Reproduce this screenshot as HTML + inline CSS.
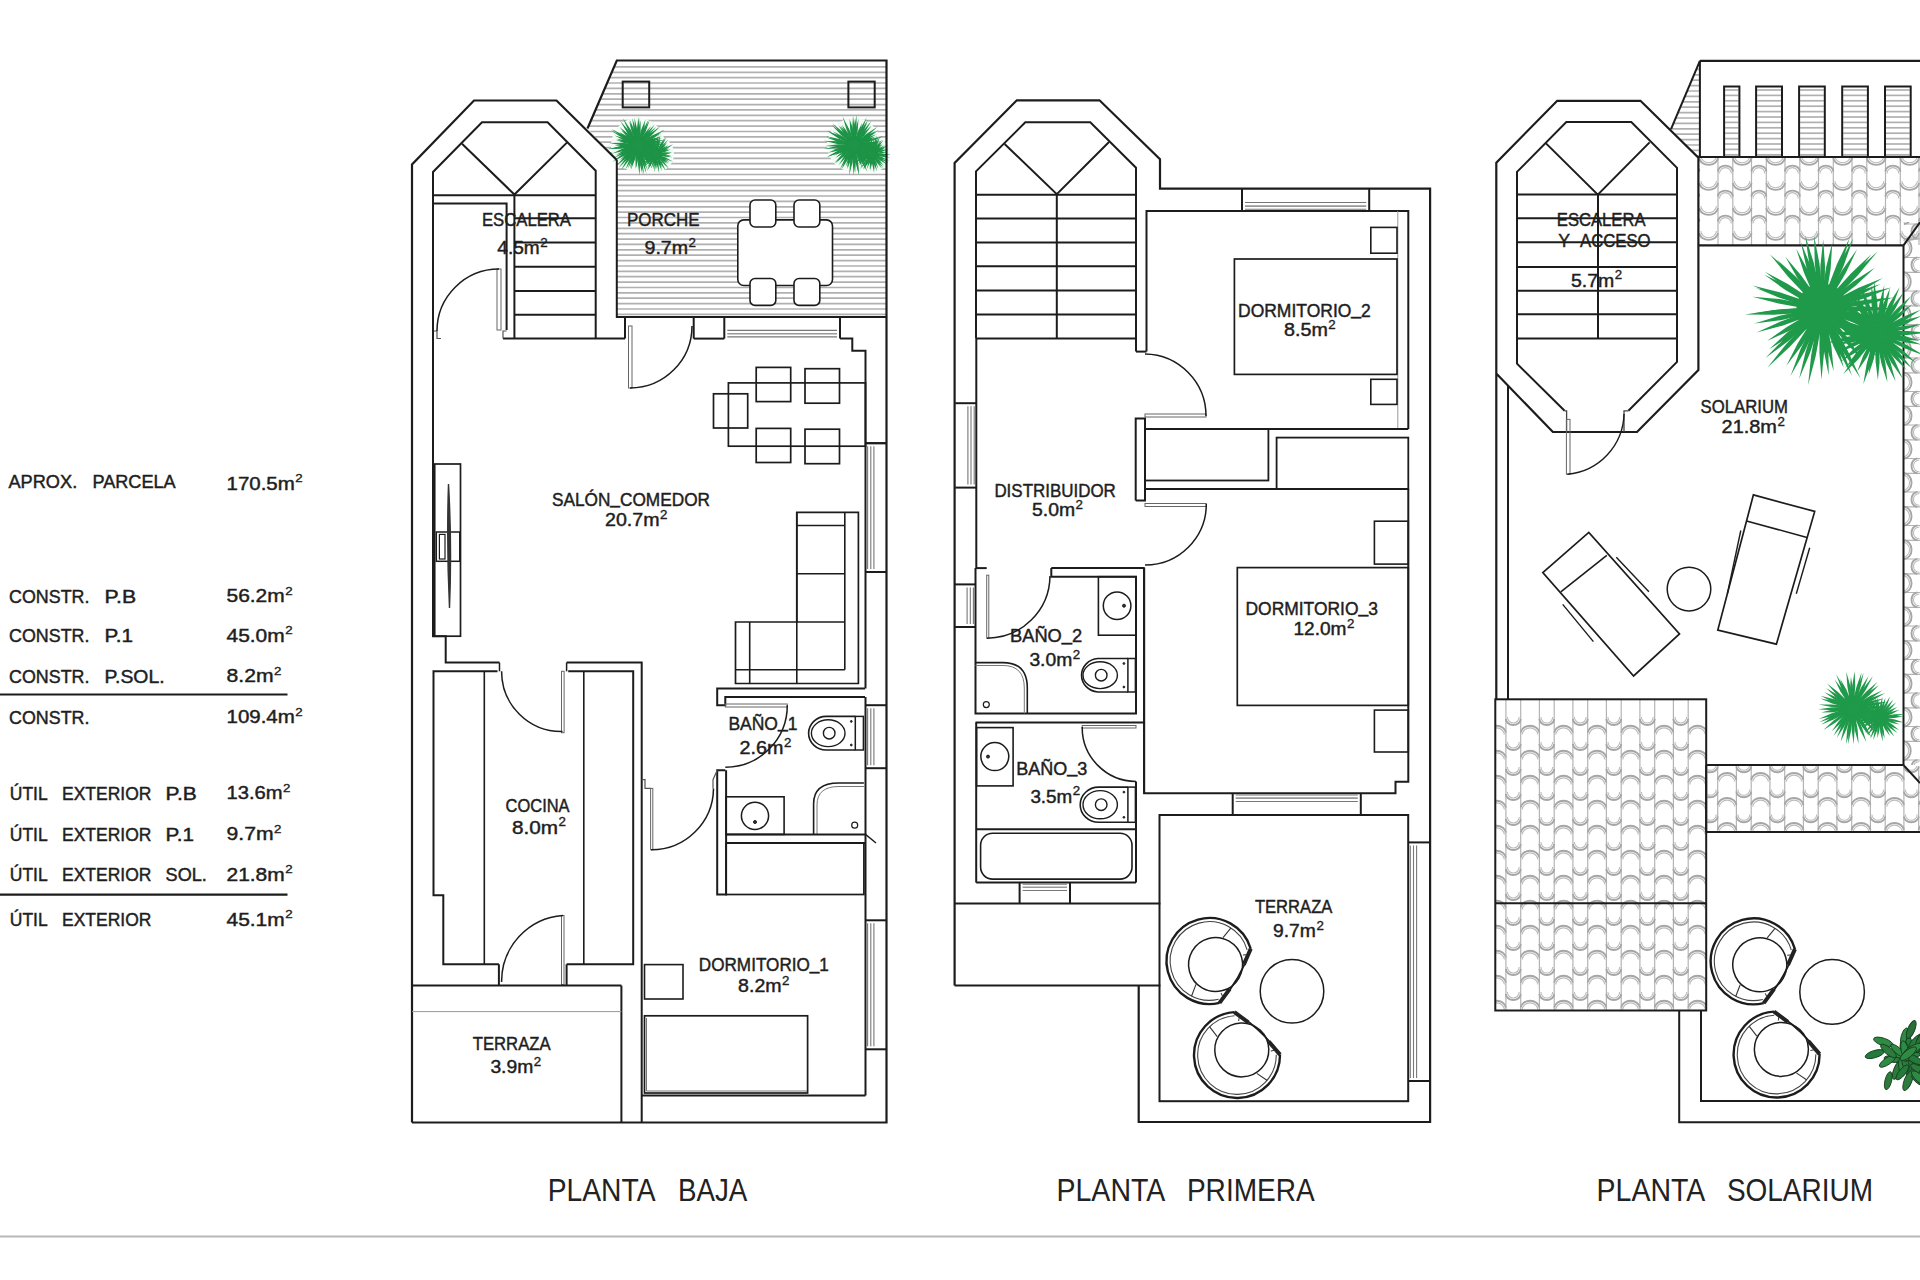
<!DOCTYPE html>
<html><head><meta charset="utf-8"><title>Plano</title>
<style>html,body{margin:0;padding:0;background:#fff;width:1920px;height:1280px;overflow:hidden}
svg{display:block} text{font-family:"Liberation Sans",sans-serif}</style></head>
<body><svg width="1920" height="1280" viewBox="0 0 1920 1280">
<rect width="1920" height="1280" fill="#fff"/>
<text x="8.5" y="488" font-size="18.5" textLength="68.7" lengthAdjust="spacingAndGlyphs" fill="#1e1e1e" stroke="#1e1e1e" stroke-width="0.45">APROX.</text>
<text x="92.4" y="488" font-size="18.5" textLength="83.3" lengthAdjust="spacingAndGlyphs" fill="#1e1e1e" stroke="#1e1e1e" stroke-width="0.45">PARCELA</text>
<text x="226.5" y="489.5" font-size="18.5" textLength="68.3" lengthAdjust="spacingAndGlyphs" fill="#1e1e1e" stroke="#1e1e1e" stroke-width="0.45">170.5m</text>
<text x="295.3" y="482.1" font-size="11.8" textLength="7.4" lengthAdjust="spacingAndGlyphs" fill="#1e1e1e" stroke="#1e1e1e" stroke-width="0.35">2</text>
<text x="9.1" y="603.2" font-size="18.5" textLength="80.3" lengthAdjust="spacingAndGlyphs" fill="#1e1e1e" stroke="#1e1e1e" stroke-width="0.45">CONSTR.</text>
<text x="104.6" y="603.2" font-size="18.5" textLength="31.5" lengthAdjust="spacingAndGlyphs" fill="#1e1e1e" stroke="#1e1e1e" stroke-width="0.45">P.B</text>
<text x="226.5" y="602.4" font-size="18.5" textLength="58.2" lengthAdjust="spacingAndGlyphs" fill="#1e1e1e" stroke="#1e1e1e" stroke-width="0.45">56.2m</text>
<text x="285.2" y="595" font-size="11.8" textLength="7.4" lengthAdjust="spacingAndGlyphs" fill="#1e1e1e" stroke="#1e1e1e" stroke-width="0.35">2</text>
<text x="9.1" y="642.4" font-size="18.5" textLength="80.3" lengthAdjust="spacingAndGlyphs" fill="#1e1e1e" stroke="#1e1e1e" stroke-width="0.45">CONSTR.</text>
<text x="104.6" y="642.4" font-size="18.5" textLength="28.4" lengthAdjust="spacingAndGlyphs" fill="#1e1e1e" stroke="#1e1e1e" stroke-width="0.45">P.1</text>
<text x="226.5" y="641.6" font-size="18.5" textLength="58.2" lengthAdjust="spacingAndGlyphs" fill="#1e1e1e" stroke="#1e1e1e" stroke-width="0.45">45.0m</text>
<text x="285.2" y="634.2" font-size="11.8" textLength="7.4" lengthAdjust="spacingAndGlyphs" fill="#1e1e1e" stroke="#1e1e1e" stroke-width="0.35">2</text>
<text x="9.1" y="682.9" font-size="18.5" textLength="80.3" lengthAdjust="spacingAndGlyphs" fill="#1e1e1e" stroke="#1e1e1e" stroke-width="0.45">CONSTR.</text>
<text x="104.6" y="682.9" font-size="18.5" textLength="60" lengthAdjust="spacingAndGlyphs" fill="#1e1e1e" stroke="#1e1e1e" stroke-width="0.45">P.SOL.</text>
<text x="226.5" y="682.1" font-size="18.5" textLength="47" lengthAdjust="spacingAndGlyphs" fill="#1e1e1e" stroke="#1e1e1e" stroke-width="0.45">8.2m</text>
<text x="274" y="674.7" font-size="11.8" textLength="7.4" lengthAdjust="spacingAndGlyphs" fill="#1e1e1e" stroke="#1e1e1e" stroke-width="0.35">2</text>
<text x="9.1" y="724.1" font-size="18.5" textLength="80.3" lengthAdjust="spacingAndGlyphs" fill="#1e1e1e" stroke="#1e1e1e" stroke-width="0.45">CONSTR.</text>
<text x="226.5" y="723.3" font-size="18.5" textLength="68.3" lengthAdjust="spacingAndGlyphs" fill="#1e1e1e" stroke="#1e1e1e" stroke-width="0.45">109.4m</text>
<text x="295.3" y="715.9" font-size="11.8" textLength="7.4" lengthAdjust="spacingAndGlyphs" fill="#1e1e1e" stroke="#1e1e1e" stroke-width="0.35">2</text>
<text x="9.8" y="799.7" font-size="18.5" textLength="37.9" lengthAdjust="spacingAndGlyphs" fill="#1e1e1e" stroke="#1e1e1e" stroke-width="0.45">ÚTIL</text>
<text x="62" y="799.7" font-size="18.5" textLength="89.4" lengthAdjust="spacingAndGlyphs" fill="#1e1e1e" stroke="#1e1e1e" stroke-width="0.45">EXTERIOR</text>
<text x="165.6" y="799.7" font-size="18.5" textLength="31.1" lengthAdjust="spacingAndGlyphs" fill="#1e1e1e" stroke="#1e1e1e" stroke-width="0.45">P.B</text>
<text x="226.5" y="798.9" font-size="18.5" textLength="56.1" lengthAdjust="spacingAndGlyphs" fill="#1e1e1e" stroke="#1e1e1e" stroke-width="0.45">13.6m</text>
<text x="283.1" y="791.5" font-size="11.8" textLength="7.4" lengthAdjust="spacingAndGlyphs" fill="#1e1e1e" stroke="#1e1e1e" stroke-width="0.35">2</text>
<text x="9.8" y="840.8" font-size="18.5" textLength="37.9" lengthAdjust="spacingAndGlyphs" fill="#1e1e1e" stroke="#1e1e1e" stroke-width="0.45">ÚTIL</text>
<text x="62" y="840.8" font-size="18.5" textLength="89.4" lengthAdjust="spacingAndGlyphs" fill="#1e1e1e" stroke="#1e1e1e" stroke-width="0.45">EXTERIOR</text>
<text x="165.6" y="840.8" font-size="18.5" textLength="28.4" lengthAdjust="spacingAndGlyphs" fill="#1e1e1e" stroke="#1e1e1e" stroke-width="0.45">P.1</text>
<text x="226.5" y="840" font-size="18.5" textLength="47" lengthAdjust="spacingAndGlyphs" fill="#1e1e1e" stroke="#1e1e1e" stroke-width="0.45">9.7m</text>
<text x="274" y="832.6" font-size="11.8" textLength="7.4" lengthAdjust="spacingAndGlyphs" fill="#1e1e1e" stroke="#1e1e1e" stroke-width="0.35">2</text>
<text x="9.8" y="881.4" font-size="18.5" textLength="37.9" lengthAdjust="spacingAndGlyphs" fill="#1e1e1e" stroke="#1e1e1e" stroke-width="0.45">ÚTIL</text>
<text x="62" y="881.4" font-size="18.5" textLength="89.4" lengthAdjust="spacingAndGlyphs" fill="#1e1e1e" stroke="#1e1e1e" stroke-width="0.45">EXTERIOR</text>
<text x="165.6" y="881.4" font-size="18.5" textLength="41.2" lengthAdjust="spacingAndGlyphs" fill="#1e1e1e" stroke="#1e1e1e" stroke-width="0.45">SOL.</text>
<text x="226.5" y="880.6" font-size="18.5" textLength="58.2" lengthAdjust="spacingAndGlyphs" fill="#1e1e1e" stroke="#1e1e1e" stroke-width="0.45">21.8m</text>
<text x="285.2" y="873.2" font-size="11.8" textLength="7.4" lengthAdjust="spacingAndGlyphs" fill="#1e1e1e" stroke="#1e1e1e" stroke-width="0.35">2</text>
<text x="9.8" y="926.3" font-size="18.5" textLength="37.9" lengthAdjust="spacingAndGlyphs" fill="#1e1e1e" stroke="#1e1e1e" stroke-width="0.45">ÚTIL</text>
<text x="62" y="926.3" font-size="18.5" textLength="89.4" lengthAdjust="spacingAndGlyphs" fill="#1e1e1e" stroke="#1e1e1e" stroke-width="0.45">EXTERIOR</text>
<text x="226.5" y="925.5" font-size="18.5" textLength="58.2" lengthAdjust="spacingAndGlyphs" fill="#1e1e1e" stroke="#1e1e1e" stroke-width="0.45">45.1m</text>
<text x="285.2" y="918.1" font-size="11.8" textLength="7.4" lengthAdjust="spacingAndGlyphs" fill="#1e1e1e" stroke="#1e1e1e" stroke-width="0.35">2</text>
<line x1="0" y1="694.5" x2="287.5" y2="694.5" stroke="#1c1c1c" stroke-width="2.2"/>
<line x1="0" y1="894.6" x2="287.5" y2="894.6" stroke="#1c1c1c" stroke-width="2.2"/>
<clipPath id="porchclip"><polygon points="587.5,128.5 616.8,60.5 886.5,60.5 886.5,317 616.8,317 616.8,160"/></clipPath>
<g clip-path="url(#porchclip)">
<line x1="580" y1="66.9" x2="890" y2="66.9" stroke="#b0b0b0" stroke-width="1.7"/>
<line x1="580" y1="72.3" x2="890" y2="72.3" stroke="#b0b0b0" stroke-width="1.7"/>
<line x1="580" y1="77.7" x2="890" y2="77.7" stroke="#b0b0b0" stroke-width="1.7"/>
<line x1="580" y1="83" x2="890" y2="83" stroke="#b0b0b0" stroke-width="1.7"/>
<line x1="580" y1="88.4" x2="890" y2="88.4" stroke="#b0b0b0" stroke-width="1.7"/>
<line x1="580" y1="93.8" x2="890" y2="93.8" stroke="#b0b0b0" stroke-width="1.7"/>
<line x1="580" y1="99.2" x2="890" y2="99.2" stroke="#b0b0b0" stroke-width="1.7"/>
<line x1="580" y1="104.6" x2="890" y2="104.6" stroke="#b0b0b0" stroke-width="1.7"/>
<line x1="580" y1="109.9" x2="890" y2="109.9" stroke="#b0b0b0" stroke-width="1.7"/>
<line x1="580" y1="115.3" x2="890" y2="115.3" stroke="#b0b0b0" stroke-width="1.7"/>
<line x1="580" y1="120.7" x2="890" y2="120.7" stroke="#b0b0b0" stroke-width="1.7"/>
<line x1="580" y1="126.1" x2="890" y2="126.1" stroke="#b0b0b0" stroke-width="1.7"/>
<line x1="580" y1="131.5" x2="890" y2="131.5" stroke="#b0b0b0" stroke-width="1.7"/>
<line x1="580" y1="136.8" x2="890" y2="136.8" stroke="#b0b0b0" stroke-width="1.7"/>
<line x1="580" y1="142.2" x2="890" y2="142.2" stroke="#b0b0b0" stroke-width="1.7"/>
<line x1="580" y1="147.6" x2="890" y2="147.6" stroke="#b0b0b0" stroke-width="1.7"/>
<line x1="580" y1="153" x2="890" y2="153" stroke="#b0b0b0" stroke-width="1.7"/>
<line x1="580" y1="158.4" x2="890" y2="158.4" stroke="#b0b0b0" stroke-width="1.7"/>
<line x1="580" y1="163.7" x2="890" y2="163.7" stroke="#b0b0b0" stroke-width="1.7"/>
<line x1="580" y1="169.1" x2="890" y2="169.1" stroke="#b0b0b0" stroke-width="1.7"/>
<line x1="580" y1="174.5" x2="890" y2="174.5" stroke="#b0b0b0" stroke-width="1.7"/>
<line x1="580" y1="179.9" x2="890" y2="179.9" stroke="#b0b0b0" stroke-width="1.7"/>
<line x1="580" y1="185.3" x2="890" y2="185.3" stroke="#b0b0b0" stroke-width="1.7"/>
<line x1="580" y1="190.6" x2="890" y2="190.6" stroke="#b0b0b0" stroke-width="1.7"/>
<line x1="580" y1="196" x2="890" y2="196" stroke="#b0b0b0" stroke-width="1.7"/>
<line x1="580" y1="201.4" x2="890" y2="201.4" stroke="#b0b0b0" stroke-width="1.7"/>
<line x1="580" y1="206.8" x2="890" y2="206.8" stroke="#b0b0b0" stroke-width="1.7"/>
<line x1="580" y1="212.2" x2="890" y2="212.2" stroke="#b0b0b0" stroke-width="1.7"/>
<line x1="580" y1="217.5" x2="890" y2="217.5" stroke="#b0b0b0" stroke-width="1.7"/>
<line x1="580" y1="222.9" x2="890" y2="222.9" stroke="#b0b0b0" stroke-width="1.7"/>
<line x1="580" y1="228.3" x2="890" y2="228.3" stroke="#b0b0b0" stroke-width="1.7"/>
<line x1="580" y1="233.7" x2="890" y2="233.7" stroke="#b0b0b0" stroke-width="1.7"/>
<line x1="580" y1="239.1" x2="890" y2="239.1" stroke="#b0b0b0" stroke-width="1.7"/>
<line x1="580" y1="244.4" x2="890" y2="244.4" stroke="#b0b0b0" stroke-width="1.7"/>
<line x1="580" y1="249.8" x2="890" y2="249.8" stroke="#b0b0b0" stroke-width="1.7"/>
<line x1="580" y1="255.2" x2="890" y2="255.2" stroke="#b0b0b0" stroke-width="1.7"/>
<line x1="580" y1="260.6" x2="890" y2="260.6" stroke="#b0b0b0" stroke-width="1.7"/>
<line x1="580" y1="266" x2="890" y2="266" stroke="#b0b0b0" stroke-width="1.7"/>
<line x1="580" y1="271.3" x2="890" y2="271.3" stroke="#b0b0b0" stroke-width="1.7"/>
<line x1="580" y1="276.7" x2="890" y2="276.7" stroke="#b0b0b0" stroke-width="1.7"/>
<line x1="580" y1="282.1" x2="890" y2="282.1" stroke="#b0b0b0" stroke-width="1.7"/>
<line x1="580" y1="287.5" x2="890" y2="287.5" stroke="#b0b0b0" stroke-width="1.7"/>
<line x1="580" y1="292.9" x2="890" y2="292.9" stroke="#b0b0b0" stroke-width="1.7"/>
<line x1="580" y1="298.2" x2="890" y2="298.2" stroke="#b0b0b0" stroke-width="1.7"/>
<line x1="580" y1="303.6" x2="890" y2="303.6" stroke="#b0b0b0" stroke-width="1.7"/>
<line x1="580" y1="309" x2="890" y2="309" stroke="#b0b0b0" stroke-width="1.7"/>
<line x1="580" y1="314.4" x2="890" y2="314.4" stroke="#b0b0b0" stroke-width="1.7"/>
</g>
<circle cx="638" cy="145" r="27" fill="#f4fbf6" stroke="none" stroke-width="0"/>
<circle cx="656" cy="154" r="18" fill="#f4fbf6" stroke="none" stroke-width="0"/>
<circle cx="854" cy="145" r="27" fill="#f4fbf6" stroke="none" stroke-width="0"/>
<circle cx="872" cy="154" r="18" fill="#f4fbf6" stroke="none" stroke-width="0"/>
<g fill="#1d9447">
<circle cx="638" cy="145" r="9.3"/>
<polygon points="644.2,145.5 652.9,145.8 665,144.1 652.8,143.3 644.2,144.1"/>
<polygon points="644.1,146.2 653,147.4 665.5,147 653.2,144.9 644.2,144.7"/>
<polygon points="643.9,146.9 650.1,148.7 660.5,149.4 650.6,146.2 644.2,145.5"/>
<polygon points="643.9,147 653.7,149.6 666.9,151.2 654.2,147.2 644.2,145.6"/>
<polygon points="643.6,147.7 650.3,150.5 661,152.9 651.1,148.2 644.1,146.3"/>
<polygon points="643.1,148.7 650.1,153.2 661.1,157.8 651.3,151 643.8,147.4"/>
<polygon points="642.8,149 649.5,154 660.1,159.5 650.9,151.9 643.6,147.8"/>
<polygon points="642.5,149.3 647.6,153.8 656.9,159.2 649.1,151.8 643.4,148.1"/>
<polygon points="642.1,149.7 649.4,156.9 660.2,165 651,155.1 643.1,148.6"/>
<polygon points="641.7,150 648,157.3 657.8,165.8 649.8,155.6 642.8,149"/>
<polygon points="641.2,150.4 644.7,155.7 651.9,163.2 646.6,154.2 642.4,149.5"/>
<polygon points="640.6,150.7 644.9,158.5 652.4,168.4 647,157.2 641.9,149.9"/>
<polygon points="640.4,150.8 643.1,156.4 649.2,164.6 645.2,155.2 641.7,150"/>
<polygon points="639.5,151.1 642,159 647.3,169.7 644.3,158.2 640.9,150.5"/>
<polygon points="639,151.2 641.5,161.1 646.5,173.7 643.9,160.4 640.5,150.7"/>
<polygon points="638.5,151.2 640.1,161.6 644,174.7 642.5,161.1 640,150.9"/>
<polygon points="638.2,151.2 639.1,161.1 642.3,174 641.6,160.7 639.6,151"/>
<polygon points="637.6,151.2 637.6,161.8 639.6,175.4 640.1,161.7 639.1,151.2"/>
<polygon points="636.7,151.1 635.6,157.6 635.9,168.1 638.1,157.8 638.2,151.2"/>
<polygon points="636.7,151.1 635.6,158.1 635.8,169.1 638,158.4 638.2,151.2"/>
<polygon points="635.6,150.8 632.8,158.5 630.8,170.1 635.2,159.1 637,151.2"/>
<polygon points="635.3,150.6 632.4,157.6 629.9,168.6 634.7,158.4 636.7,151.1"/>
<polygon points="634.9,150.4 631.3,157.5 627.9,168.6 633.6,158.5 636.2,151"/>
<polygon points="634.5,150.2 630,157.8 625.5,169.4 632.2,159 635.8,150.9"/>
<polygon points="633.9,149.7 627.7,158.1 621.1,170 629.7,159.4 635.1,150.6"/>
<polygon points="633.5,149.3 626.3,157 618.5,168.3 628.3,158.6 634.6,150.2"/>
<polygon points="633,148.8 624.9,155.9 615.7,166.4 626.6,157.7 634,149.8"/>
<polygon points="632.8,148.4 627.2,152.4 619.8,160.2 628.8,154.3 633.7,149.6"/>
<polygon points="632.4,147.8 623.2,153.3 612.4,161.9 624.6,155.4 633.2,149"/>
<polygon points="632.2,147.3 624.2,151 613.9,157.8 625.4,153.2 632.9,148.6"/>
<polygon points="632,146.9 625.4,149.3 616,154.9 626.4,151.6 632.7,148.2"/>
<polygon points="631.9,146.2 623.4,148.5 612.1,153.6 624.1,150.9 632.3,147.7"/>
<polygon points="631.9,146.1 625.6,147.5 616.1,151.7 626.3,149.8 632.3,147.5"/>
<polygon points="631.8,145.1 621,146.1 607.4,149.2 621.3,148.6 632,146.6"/>
<polygon points="631.8,145.1 621.9,146 609,149.1 622.2,148.5 632,146.6"/>
<polygon points="631.8,144.3 625,143.9 614.4,145.3 625,146.4 631.8,145.8"/>
<polygon points="631.9,143.9 622.2,142.7 609.1,143.1 622,145.2 631.8,145.3"/>
<polygon points="632.1,142.9 626.1,141 615.9,140 625.5,143.4 631.8,144.3"/>
<polygon points="632.3,142.6 626.4,140.3 616.2,138.7 625.7,142.7 631.8,144"/>
<polygon points="632.5,142 625.6,138.6 614.7,135.5 624.7,140.9 632,143.4"/>
<polygon points="632.9,141.4 623.7,135.9 610.9,130.4 622.5,138 632.2,142.7"/>
<polygon points="633.1,141.2 624,135.2 611.4,129.1 622.7,137.3 632.3,142.5"/>
<polygon points="633.3,140.9 628.3,136.8 619.1,131.9 626.9,138.8 632.5,142.1"/>
<polygon points="633.9,140.3 629.6,135.8 621.2,129.9 627.9,137.6 632.9,141.4"/>
<polygon points="634.1,140.1 628.7,134.2 619.5,127 626.9,136 633,141.2"/>
<polygon points="634.8,139.6 631,134 623.5,126.3 629,135.5 633.6,140.6"/>
<polygon points="634.9,139.6 629.2,131.1 620.2,121 627.2,132.6 633.7,140.5"/>
<polygon points="635.6,139.2 630.8,129.7 622.9,118.3 628.6,131 634.3,140"/>
<polygon points="636.5,138.9 634.3,131.4 629.1,121 631.9,132.2 635.1,139.4"/>
<polygon points="636.8,138.9 634.6,130.6 629.6,119.5 632.2,131.4 635.3,139.3"/>
<polygon points="637.5,138.8 636.1,129.9 632.3,118.1 633.7,130.5 636,139.1"/>
<polygon points="637.9,138.8 637.3,129.7 634.5,117.5 634.8,130 636.5,138.9"/>
<polygon points="638.8,138.8 639.4,130.3 638.2,118.3 636.9,130.3 637.3,138.8"/>
<polygon points="639,138.8 639.8,129.3 639,116.4 637.3,129.3 637.5,138.8"/>
<polygon points="639.4,138.9 640.6,131.5 640.6,120.2 638.2,131.2 637.9,138.8"/>
<polygon points="640.4,139.3 643.3,131.2 645.5,119.2 640.9,130.5 639,138.8"/>
<polygon points="640.7,139.3 643.1,133.7 645.1,123.7 640.7,132.9 639.2,138.9"/>
<polygon points="641.1,139.6 644.9,131.6 648.5,119.7 642.6,130.6 639.7,139"/>
<polygon points="641.3,139.7 645.6,131.7 649.7,119.9 643.3,130.7 639.9,139.1"/>
<polygon points="642.1,140.3 646.1,135.3 650.9,126.1 644.1,133.9 640.9,139.5"/>
<polygon points="642.5,140.7 648.2,134.6 654.8,124.6 646.3,133 641.4,139.7"/>
<polygon points="642.9,141.1 648.7,136 655.9,127 647,134.2 641.9,140.1"/>
<polygon points="643.2,141.6 650.9,135.9 660.1,126.6 649.4,133.9 642.3,140.5"/>
<polygon points="643.3,141.7 648.5,138 655.7,130.5 646.9,136.1 642.3,140.5"/>
<polygon points="643.8,142.6 653.3,137.7 664.7,129.8 652.1,135.6 643,141.3"/>
<polygon points="643.8,142.8 651.4,139.4 661.3,132.9 650.3,137.2 643.2,141.5"/>
<polygon points="644.1,143.6 651.4,141.5 661.6,136.4 650.6,139.1 643.6,142.2"/>
<polygon points="644.2,144 651.6,142.3 662,137.9 650.9,139.9 643.7,142.5"/>
<polygon points="644.2,144.5 653.1,143.3 665,139.7 652.6,140.9 643.9,143.1"/>
<polygon points="644.2,145 652.1,144.6 663.4,142.1 651.8,142.2 644.1,143.6"/>
</g>
<g fill="#1d9447">
<circle cx="656" cy="154" r="6"/>
<polygon points="660,154.4 664.3,154.6 671,153.5 664.2,152.8 660,153.3"/>
<polygon points="659.9,155 664.2,155.8 671.2,155.7 664.4,154.1 660,153.9"/>
<polygon points="659.8,155.3 664.8,156.7 672.3,157.3 665.2,154.9 660,154.3"/>
<polygon points="659.4,156.1 665.1,159.1 673.2,161.8 665.8,157.5 659.9,155.2"/>
<polygon points="659.2,156.5 662.9,159.2 669.5,162 663.9,157.6 659.7,155.6"/>
<polygon points="658.9,156.8 662.5,159.9 668.9,163.4 663.6,158.5 659.5,155.9"/>
<polygon points="658.7,157 661.6,160.1 667.3,163.8 662.8,158.7 659.4,156.2"/>
<polygon points="658.2,157.4 662.5,162.7 669,168.7 663.8,161.5 659.1,156.6"/>
<polygon points="657.5,157.7 660.4,163.4 665.5,170.4 662,162.5 658.5,157.2"/>
<polygon points="657.1,157.9 658.5,162.2 662.1,168.2 660.2,161.5 658.1,157.5"/>
<polygon points="656.8,158 658.4,163.6 661.9,170.9 660.1,163 657.8,157.6"/>
<polygon points="656.1,158 656.8,164.6 659.1,172.9 658.6,164.3 657.2,157.9"/>
<polygon points="655.5,158 655.2,162.2 656.3,168.9 657,162.2 656.6,158"/>
<polygon points="655.2,157.9 654.3,163.9 654.6,172.1 656.1,164 656.2,158"/>
<polygon points="654.7,157.8 653.5,162.1 653.1,169.1 655.3,162.5 655.8,158"/>
<polygon points="654.3,157.6 652.6,161.5 651.4,168.2 654.3,162.1 655.3,158"/>
<polygon points="653.6,157.3 650.2,162.9 646.9,171 651.8,163.8 654.6,157.8"/>
<polygon points="653.4,157.1 650.5,161 647.3,167.5 652,161.9 654.3,157.7"/>
<polygon points="652.9,156.6 648.8,160.5 644.1,167 650.1,161.8 653.7,157.3"/>
<polygon points="652.6,156.2 647.4,160.2 641.5,166.5 648.6,161.5 653.3,157"/>
<polygon points="652.4,155.9 648,158.7 642.5,163.8 649.1,160.1 653.1,156.8"/>
<polygon points="652.2,155.4 647.4,157.6 641.2,161.9 648.3,159.2 652.7,156.4"/>
<polygon points="652.1,155.1 647.5,156.8 641.3,160.5 648.3,158.4 652.6,156.1"/>
<polygon points="652,154.3 647.9,154.8 641.7,157.1 648.3,156.6 652.2,155.4"/>
<polygon points="652,154.2 646.1,154.9 638.4,157.2 646.5,156.6 652.2,155.2"/>
<polygon points="652,153.6 646.4,153.4 638.6,154.5 646.5,155.2 652,154.6"/>
<polygon points="652.1,153 647.2,152 639.8,152 647,153.8 652,154"/>
<polygon points="652.4,152.3 648.2,150.5 641.2,149.3 647.6,152.2 652,153.3"/>
<polygon points="652.5,152.1 648.3,150.1 641.5,148.4 647.7,151.8 652.1,153.1"/>
<polygon points="652.8,151.5 648.8,148.9 642.1,146.1 647.9,150.4 652.3,152.5"/>
<polygon points="653,151.3 648.1,147.4 640.8,143.3 647.1,148.9 652.4,152.1"/>
<polygon points="653.4,150.9 649.4,146.9 643,142.3 648.2,148.2 652.7,151.7"/>
<polygon points="654,150.5 651.8,146.9 647,142 650.3,148 653.2,151.1"/>
<polygon points="654.1,150.4 651.7,146.4 646.9,141.2 650.3,147.5 653.2,151.1"/>
<polygon points="654.9,150.1 652.9,144.6 648.9,137.6 651.3,145.3 653.9,150.5"/>
<polygon points="655.2,150.1 653.8,145.3 650.5,138.7 652.1,145.9 654.1,150.4"/>
<polygon points="655.6,150 654.8,144.7 652.2,137.5 653,145.1 654.6,150.2"/>
<polygon points="656.1,150 655.7,143.9 653.9,135.8 653.9,144.1 655,150.1"/>
<polygon points="657,150.1 658.1,143.3 658.2,134.4 656.3,143.1 655.9,150"/>
<polygon points="657.4,150.2 659.2,143.6 660.3,134.7 657.5,143.2 656.3,150"/>
<polygon points="657.5,150.3 659.1,145.7 660.1,138.5 657.4,145.2 656.5,150"/>
<polygon points="658.4,150.7 661.7,145.4 664.9,137.5 660.1,144.5 657.4,150.2"/>
<polygon points="658.6,150.9 662.5,145.3 666.4,137.3 660.9,144.3 657.6,150.3"/>
<polygon points="659,151.3 663.5,146.6 668.3,139.6 662.1,145.5 658.2,150.6"/>
<polygon points="659.2,151.6 662.7,148.7 667,143.1 661.4,147.4 658.5,150.8"/>
<polygon points="659.5,152.1 663.2,149.8 668.2,145 662.2,148.3 658.9,151.2"/>
<polygon points="659.7,152.5 665.9,149.4 673.2,144.2 665,147.8 659.2,151.6"/>
<polygon points="659.9,153 663.7,151.8 669.3,148.4 663,150.1 659.5,152"/>
<polygon points="660,153.3 664.3,152.3 670.6,149.4 663.8,150.6 659.7,152.3"/>
<polygon points="660,154.2 665.1,154.1 672.4,152.5 664.9,152.3 659.9,153.1"/>
</g>
<g fill="#1d9447">
<circle cx="854" cy="145" r="9.3"/>
<polygon points="860.2,145.8 869.8,146.5 882.8,145.4 869.8,144 860.2,144.3"/>
<polygon points="860.1,146.5 870.5,148.3 884.3,148.8 870.8,145.9 860.2,145"/>
<polygon points="859.9,147 870.1,149.7 883.7,151.3 870.6,147.2 860.2,145.6"/>
<polygon points="859.9,147 867.9,149.3 879.8,150.6 868.4,146.8 860.2,145.6"/>
<polygon points="859.4,148.2 867.6,152.3 879.6,156.2 868.6,150 860,146.8"/>
<polygon points="859.1,148.6 864.7,152.2 874.5,156.1 865.9,150 859.8,147.3"/>
<polygon points="859,148.8 864.9,152.9 875,157.5 866.2,150.8 859.7,147.5"/>
<polygon points="858.6,149.3 865.4,154.9 876,161.2 866.8,152.9 859.4,148.1"/>
<polygon points="858.4,149.4 863.8,154.1 873.1,159.8 865.3,152.2 859.4,148.2"/>
<polygon points="857.9,149.9 864.9,157.6 875.5,166.3 866.7,155.8 858.9,148.8"/>
<polygon points="857.1,150.4 860.8,156.2 868.2,164 862.8,154.7 858.3,149.5"/>
<polygon points="856.6,150.7 859.7,156.7 866.3,165.1 861.8,155.4 857.9,149.9"/>
<polygon points="856.2,150.8 858.8,157 864.8,165.8 861,155.9 857.5,150.2"/>
<polygon points="856.1,150.9 860.2,160.3 867.4,171.7 862.5,159.1 857.4,150.2"/>
<polygon points="855.4,151.1 857.4,157.9 862.3,167.7 859.7,157.1 856.8,150.6"/>
<polygon points="854.3,151.2 855.5,161.4 859,174.5 857.9,161 855.8,151"/>
<polygon points="854.3,151.2 855.5,161.8 858.9,175.3 857.9,161.5 855.7,151"/>
<polygon points="853.5,151.2 853.4,160.5 855.1,173.2 855.9,160.4 855,151.2"/>
<polygon points="853.2,151.2 852.6,161.8 853.7,175.5 855.1,161.8 854.7,151.2"/>
<polygon points="852.3,151 850.1,161.5 849.2,175.3 852.6,161.9 853.8,151.2"/>
<polygon points="851.6,150.8 849.1,157.9 847.3,169 851.5,158.5 853.1,151.2"/>
<polygon points="851.5,150.7 849,157.1 847,167.7 851.4,157.9 852.9,151.1"/>
<polygon points="851.1,150.5 848.4,156.3 845.9,166.4 850.7,157.2 852.5,151.1"/>
<polygon points="850.5,150.2 846,158 841.5,169.6 848.2,159.1 851.9,150.9"/>
<polygon points="850.3,150 845.2,157.8 839.9,169.4 847.3,159.1 851.5,150.7"/>
<polygon points="849.6,149.5 844.6,155.2 838.8,164.9 846.6,156.7 850.8,150.4"/>
<polygon points="849,148.8 842.7,154.2 835,163.4 844.4,156 850.1,149.8"/>
<polygon points="848.9,148.6 842.4,153.9 834.4,162.9 844.1,155.7 849.9,149.7"/>
<polygon points="848.5,147.9 843,151.1 835.2,158 844.4,153.1 849.3,149.1"/>
<polygon points="848.2,147.2 842.4,149.6 834,155.4 843.6,151.8 848.8,148.5"/>
<polygon points="848,146.8 838.6,150.5 826.9,157.1 839.6,152.8 848.6,148.2"/>
<polygon points="848,146.8 838.8,150.4 827.3,156.8 839.8,152.6 848.6,148.2"/>
<polygon points="847.8,146 839.2,148 827.8,152.7 839.9,150.4 848.3,147.5"/>
<polygon points="847.8,145.7 841.6,146.7 831.9,150.4 842.1,149.2 848.2,147.2"/>
<polygon points="847.8,145.1 837.1,145.9 823.6,148.9 837.5,148.4 847.9,146.5"/>
<polygon points="847.8,144.5 838.1,144.3 825.1,146.1 838.2,146.8 847.8,146"/>
<polygon points="848,143.4 837.6,141.4 823.8,140.7 837.2,143.9 847.8,144.9"/>
<polygon points="848,143.3 840.4,141.5 828.9,140.9 840,144 847.8,144.7"/>
<polygon points="848.2,142.6 838.9,139.5 826,137.2 838.3,141.9 847.8,144"/>
<polygon points="848.3,142.4 839.3,139 826.6,136.2 838.5,141.3 847.9,143.8"/>
<polygon points="848.9,141.5 840.1,136.3 827.6,131.1 838.9,138.5 848.2,142.8"/>
<polygon points="848.9,141.5 839.7,136.1 827,130.8 838.6,138.3 848.2,142.8"/>
<polygon points="849.2,141 843,136.4 832.8,131.2 841.7,138.4 848.4,142.2"/>
<polygon points="849.9,140.3 842.4,133 831.5,124.8 840.8,134.8 848.9,141.4"/>
<polygon points="850.2,140.1 843.1,132.3 832.6,123.5 841.4,134 849.1,141.1"/>
<polygon points="850.7,139.7 846.4,133.4 838.5,125.3 844.5,135 849.6,140.6"/>
<polygon points="851.1,139.5 847.6,133.5 840.4,125.4 845.5,134.9 849.9,140.3"/>
<polygon points="851.4,139.3 848.3,133.2 841.8,124.8 846.2,134.5 850.2,140.1"/>
<polygon points="852.4,139 848.8,128.7 842.5,116.3 846.5,129.6 851,139.5"/>
<polygon points="852.5,138.9 850.8,132.8 846.1,123.7 848.5,133.7 851.1,139.4"/>
<polygon points="853.7,138.8 852.8,130.2 849.5,118.4 850.3,130.6 852.2,139"/>
<polygon points="853.8,138.8 853.3,131.6 850.5,120.9 850.8,131.9 852.4,139"/>
<polygon points="854.5,138.8 854.7,128.7 853,115.5 852.2,128.8 853,138.8"/>
<polygon points="855,138.8 855.8,130.8 855,119 853.3,130.7 853.5,138.8"/>
<polygon points="855.2,138.9 856.6,128.5 856.5,114.8 854.1,128.3 853.8,138.8"/>
<polygon points="855.8,139 857.7,130.8 858.5,118.8 855.2,130.4 854.3,138.8"/>
<polygon points="856.9,139.4 859.6,133.3 862.1,123 857.3,132.5 855.5,138.9"/>
<polygon points="857.3,139.7 862.2,130.3 866.8,117.2 859.9,129.2 855.9,139.1"/>
<polygon points="857.7,139.9 862.9,131.6 868.2,119.5 860.7,130.4 856.4,139.2"/>
<polygon points="857.8,140.1 862.4,133.3 867.3,122.6 860.3,132 856.5,139.3"/>
<polygon points="858.3,140.4 864.6,132.6 871.5,121.1 862.6,131.1 857.1,139.6"/>
<polygon points="858.7,140.9 864.6,135.2 871.7,125.6 862.8,133.5 857.6,139.9"/>
<polygon points="859.4,141.8 867.7,136 877.5,126.8 866.2,134 858.4,140.6"/>
<polygon points="859.6,142.3 866.8,138.2 876.1,130.8 865.5,136.1 858.8,141"/>
<polygon points="859.7,142.5 868.2,138 878.6,130.3 866.9,135.8 858.9,141.2"/>
<polygon points="859.9,143 866.8,140.2 876.4,134.2 865.8,137.9 859.3,141.6"/>
<polygon points="860,143.4 866.5,141.5 876,136.5 865.6,139.1 859.5,142.1"/>
<polygon points="860.2,144 870.7,141.4 883.7,136.3 870,139 859.7,142.5"/>
<polygon points="860.2,145 869.3,144.3 881.5,141.6 869,141.9 860.1,143.5"/>
<polygon points="860.2,145.2 867.9,145 879.2,142.7 867.7,142.5 860.1,143.7"/>
</g>
<g fill="#1d9447">
<circle cx="872" cy="154" r="6"/>
<polygon points="876,154.7 882.4,155.3 891,154.7 882.5,153.5 876,153.6"/>
<polygon points="875.9,155 880.5,156 887.7,156 880.8,154.2 876,154"/>
<polygon points="875.8,155.3 881.6,156.8 889.8,157.4 882,155 876,154.2"/>
<polygon points="875.5,156 881.2,158.6 889.4,160.8 881.9,156.9 875.9,155"/>
<polygon points="875.3,156.4 880.7,159.6 888.5,162.8 881.5,158 875.8,155.4"/>
<polygon points="875,156.7 880.1,160.6 887.6,164.7 881.1,159.1 875.6,155.8"/>
<polygon points="874.5,157.2 877.9,161.1 883.9,165.8 879.2,159.8 875.2,156.4"/>
<polygon points="874.1,157.4 877.7,162.3 883.5,168.1 879,161.2 875,156.8"/>
<polygon points="873.8,157.6 876.7,162.4 881.9,168.4 878.2,161.4 874.7,157"/>
<polygon points="873.1,157.9 874.6,162.4 878.2,168.6 876.3,161.7 874.1,157.5"/>
<polygon points="872.6,158 873.9,163.9 877,171.5 875.6,163.4 873.6,157.7"/>
<polygon points="872.1,158 872.4,163 874.4,170.1 874.2,162.7 873.1,157.9"/>
<polygon points="871.9,158 872.3,164.4 874.1,172.8 874.1,164.2 873,157.9"/>
<polygon points="871.1,157.9 870.2,163.2 870.3,170.8 872,163.3 872.1,158"/>
<polygon points="870.9,157.9 869.9,162.3 869.8,169.4 871.7,162.6 872,158"/>
<polygon points="870.2,157.6 868.3,162 866.8,169.2 870,162.6 871.2,158"/>
<polygon points="869.6,157.3 866.6,162.1 863.6,169.6 868.2,163 870.6,157.8"/>
<polygon points="869.5,157.2 866.2,162.1 862.9,169.6 867.8,163 870.4,157.7"/>
<polygon points="869.1,156.8 864.6,161.9 859.7,169.3 866,163 869.9,157.5"/>
<polygon points="868.6,156.2 864.2,159.5 858.8,165.2 865.3,160.8 869.3,157"/>
<polygon points="868.4,155.9 863.2,159 857,164.5 864.3,160.5 869,156.7"/>
<polygon points="868.2,155.3 861.8,158.1 854.3,162.9 862.6,159.7 868.7,156.3"/>
<polygon points="868.1,155.2 863.4,157 857.1,160.9 864.2,158.6 868.6,156.2"/>
<polygon points="868,154.4 863.2,155.2 856.4,157.8 863.6,157 868.2,155.5"/>
<polygon points="868,153.9 863.8,154 857.2,155.7 864,155.8 868.1,155"/>
<polygon points="868,153.3 862.5,152.7 854.7,153.2 862.4,154.5 868,154.4"/>
<polygon points="868.1,153.1 862.1,152.3 853.9,152.6 862,154.1 868,154.2"/>
<polygon points="868.2,152.6 863.9,151.2 856.9,150.5 863.5,152.9 868,153.6"/>
<polygon points="868.5,152 864.6,150.1 857.9,148.4 863.9,151.8 868.1,153"/>
<polygon points="868.7,151.7 863,148.4 854.8,145.3 862.1,150 868.2,152.7"/>
<polygon points="869.1,151.1 866.2,148.5 860.5,145.2 865.1,149.9 868.5,152"/>
<polygon points="869.6,150.8 867,147.7 861.8,143.7 865.7,149 868.8,151.5"/>
<polygon points="869.8,150.6 865.7,145.3 859.3,139.3 864.3,146.5 869,151.3"/>
<polygon points="870.4,150.3 868.1,146 863.6,140.3 866.6,146.9 869.4,150.9"/>
<polygon points="870.7,150.2 868.8,145.4 864.7,139.1 867.2,146.2 869.8,150.6"/>
<polygon points="871.1,150.1 869,143.4 865,135.3 867.3,144 870.1,150.4"/>
<polygon points="871.6,150 870.7,144.8 868,137.7 868.9,145.3 870.5,150.2"/>
<polygon points="872.4,150 872.6,144.8 871.4,137.4 870.8,144.9 871.3,150"/>
<polygon points="873,150.1 873.9,145.5 873.9,138.3 872.1,145.3 871.9,150"/>
<polygon points="873.5,150.3 875.5,143.9 876.7,135.2 873.7,143.4 872.5,150"/>
<polygon points="873.8,150.4 876.4,144.2 878.4,135.7 874.7,143.6 872.8,150"/>
<polygon points="874.2,150.6 877.2,144.9 880,136.7 875.6,144.1 873.2,150.1"/>
<polygon points="874.7,151 878.1,146.7 881.8,139.7 876.6,145.6 873.8,150.4"/>
<polygon points="875,151.3 879.1,146.8 883.6,139.8 877.7,145.6 874.1,150.6"/>
<polygon points="875.3,151.6 878.5,149 882.7,143.7 877.3,147.7 874.5,150.8"/>
<polygon points="875.6,152.2 879.7,149.8 885.1,145 878.7,148.3 875,151.3"/>
<polygon points="875.8,152.5 881.5,149.8 888.5,144.9 880.6,148.2 875.2,151.6"/>
<polygon points="875.9,152.9 879.7,151.6 885.3,148.1 878.9,149.9 875.4,151.9"/>
<polygon points="876,153.3 881.6,152 888.9,148.8 881,150.3 875.7,152.3"/>
<polygon points="876,154 880.7,153.7 887.7,151.8 880.5,151.9 875.9,152.9"/>
</g>
<rect x="622.7" y="81.6" width="26.5" height="25.8" fill="none" stroke="#1c1c1c" stroke-width="2"/>
<rect x="848.4" y="81.6" width="26.3" height="25.8" fill="none" stroke="#1c1c1c" stroke-width="2"/>
<rect x="737.8" y="219.9" width="94.7" height="65.6" rx="6" fill="#fff" stroke="#1c1c1c" stroke-width="1.6"/>
<rect x="750" y="200" width="25.8" height="27" rx="5" fill="#fff" stroke="#1c1c1c" stroke-width="1.6"/>
<rect x="794" y="200" width="25.8" height="27" rx="5" fill="#fff" stroke="#1c1c1c" stroke-width="1.6"/>
<rect x="750" y="278.5" width="25.8" height="26.9" rx="5" fill="#fff" stroke="#1c1c1c" stroke-width="1.6"/>
<rect x="794" y="278.5" width="25.8" height="26.9" rx="5" fill="#fff" stroke="#1c1c1c" stroke-width="1.6"/>
<polyline points="412,1122.5 412,164.5 474,100.5 556.5,100.5 616.8,160" fill="none" stroke="#1c1c1c" stroke-width="2.2" stroke-linejoin="miter"/>
<polyline points="587.5,128.5 616.8,60.5 886.5,60.5 886.5,1122.5 412,1122.5" fill="none" stroke="#1c1c1c" stroke-width="2.2" stroke-linejoin="miter"/>
<polyline points="616.8,160 616.8,317 625,317 625,338.5" fill="none" stroke="#1c1c1c" stroke-width="2" stroke-linejoin="miter"/>
<polyline points="433,331 433,172 482,122.2 547.6,122.2 595.7,170.7 595.7,338.5" fill="none" stroke="#1c1c1c" stroke-width="2" stroke-linejoin="miter"/>
<polyline points="462,143.7 514.4,194.5 566.9,142.6" fill="none" stroke="#1c1c1c" stroke-width="2" stroke-linejoin="miter"/>
<line x1="433" y1="195.3" x2="595.7" y2="195.3" stroke="#1c1c1c" stroke-width="2"/>
<polyline points="433,203.5 506.6,203.5 506.6,330" fill="none" stroke="#1c1c1c" stroke-width="2" stroke-linejoin="miter"/>
<line x1="514.4" y1="194.5" x2="514.4" y2="338.5" stroke="#1c1c1c" stroke-width="2"/>
<line x1="514.4" y1="218.3" x2="595.7" y2="218.3" stroke="#1c1c1c" stroke-width="2"/>
<line x1="514.4" y1="242.6" x2="595.7" y2="242.6" stroke="#1c1c1c" stroke-width="2"/>
<line x1="514.4" y1="266.8" x2="595.7" y2="266.8" stroke="#1c1c1c" stroke-width="2"/>
<line x1="514.4" y1="290.9" x2="595.7" y2="290.9" stroke="#1c1c1c" stroke-width="2"/>
<line x1="514.4" y1="314.8" x2="595.7" y2="314.8" stroke="#1c1c1c" stroke-width="2"/>
<line x1="503" y1="338.5" x2="625" y2="338.5" stroke="#1c1c1c" stroke-width="2"/>
<polyline points="433,331 437,331 437,338.5 441,338.5" fill="none" stroke="#555" stroke-width="1.2" stroke-linejoin="miter"/>
<polyline points="503,338.5 503,331 506.6,331" fill="none" stroke="#555" stroke-width="1.2" stroke-linejoin="miter"/>
<rect x="497" y="269" width="4" height="61" fill="none" stroke="#666" stroke-width="1"/>
<path d="M499,269 A62,62 0 0,0 437,331" fill="none" stroke="#1c1c1c" stroke-width="1.5"/>
<line x1="693.7" y1="317" x2="693.7" y2="338.6" stroke="#1c1c1c" stroke-width="2"/>
<line x1="693.7" y1="338.6" x2="724.3" y2="338.6" stroke="#1c1c1c" stroke-width="2"/>
<line x1="616.8" y1="317" x2="886.5" y2="317" stroke="#1c1c1c" stroke-width="2"/>
<line x1="724.3" y1="317" x2="724.3" y2="338.6" stroke="#1c1c1c" stroke-width="2"/>
<line x1="840" y1="317" x2="840" y2="338.6" stroke="#1c1c1c" stroke-width="2"/>
<line x1="727.3" y1="330.4" x2="837" y2="330.4" stroke="#777" stroke-width="1.1"/>
<line x1="727.3" y1="333.8" x2="837" y2="333.8" stroke="#999" stroke-width="1.6"/>
<line x1="727.3" y1="336.9" x2="837" y2="336.9" stroke="#777" stroke-width="1.1"/>
<polyline points="840,338.6 852.3,338.6 852.3,350.8 865.5,350.8 865.5,688.4" fill="none" stroke="#1c1c1c" stroke-width="2" stroke-linejoin="miter"/>
<rect x="628.5" y="326" width="3.5" height="62" fill="none" stroke="#666" stroke-width="1"/>
<path d="M630,388 A62,62 0 0,0 692,326" fill="none" stroke="#1c1c1c" stroke-width="1.5"/>
<line x1="886.5" y1="443.2" x2="865.5" y2="443.2" stroke="#1c1c1c" stroke-width="2"/>
<line x1="886.5" y1="572" x2="865.5" y2="572" stroke="#1c1c1c" stroke-width="2"/>
<line x1="867.6" y1="446.2" x2="867.6" y2="569" stroke="#777" stroke-width="1.1"/>
<line x1="870.8" y1="446.2" x2="870.8" y2="569" stroke="#777" stroke-width="1.1"/>
<line x1="873.9" y1="446.2" x2="873.9" y2="569" stroke="#777" stroke-width="1.1"/>
<line x1="865.5" y1="443.2" x2="886.5" y2="443.2" stroke="#1c1c1c" stroke-width="2"/>
<rect x="434.7" y="464" width="25.8" height="172.2" fill="none" stroke="#1c1c1c" stroke-width="1.7"/>
<rect x="436.3" y="532" width="23.5" height="29.3" fill="none" stroke="#1c1c1c" stroke-width="1.5"/>
<rect x="439.4" y="534.4" width="5.6" height="24.6" fill="none" stroke="#1c1c1c" stroke-width="1.2"/>
<path d="M448.5,484 Q452,545 449.5,608 Q446.5,545 448.5,484 Z" fill="#333" stroke="#333" stroke-width="1.4"/>
<polyline points="433,172 433,636.2 445.7,636.2 445.7,662.6 499.5,662.6" fill="none" stroke="#1c1c1c" stroke-width="2" stroke-linejoin="miter"/>
<polyline points="566.6,662.6 641.7,662.6 641.7,1122.5" fill="none" stroke="#1c1c1c" stroke-width="2" stroke-linejoin="miter"/>
<polyline points="497.5,671.3 433.5,671.3 433.5,895.2 443.3,895.2 443.3,964.3 498.9,964.3" fill="none" stroke="#1c1c1c" stroke-width="2" stroke-linejoin="miter"/>
<polyline points="568.2,671.3 633.2,671.3 633.2,964.3 566.6,964.3" fill="none" stroke="#1c1c1c" stroke-width="2" stroke-linejoin="miter"/>
<line x1="484.3" y1="671.3" x2="484.3" y2="964.3" stroke="#1c1c1c" stroke-width="1.6"/>
<line x1="583.8" y1="671.3" x2="583.8" y2="964.3" stroke="#1c1c1c" stroke-width="1.6"/>
<line x1="498.9" y1="964.3" x2="498.9" y2="985.6" stroke="#1c1c1c" stroke-width="2"/>
<line x1="566.6" y1="964.3" x2="566.6" y2="985.6" stroke="#1c1c1c" stroke-width="2"/>
<line x1="499.5" y1="662.6" x2="499.5" y2="671.3" stroke="#1c1c1c" stroke-width="1.5"/>
<line x1="566.6" y1="662.6" x2="566.6" y2="671.3" stroke="#1c1c1c" stroke-width="1.5"/>
<rect x="561.5" y="671.3" width="2.6" height="61.4" fill="none" stroke="#666" stroke-width="1"/>
<path d="M501.6,671.3 A60,60 0 0,0 562.5,731.5" fill="none" stroke="#1c1c1c" stroke-width="1.5"/>
<rect x="561.5" y="915.5" width="2.5" height="69.1" fill="none" stroke="#666" stroke-width="1"/>
<path d="M563,915.5 A66,66 0 0,0 501.6,982" fill="none" stroke="#1c1c1c" stroke-width="1.5"/>
<line x1="412" y1="985.6" x2="621.4" y2="985.6" stroke="#1c1c1c" stroke-width="2"/>
<line x1="621.4" y1="985.6" x2="621.4" y2="1122.5" stroke="#1c1c1c" stroke-width="2"/>
<line x1="412" y1="1011.6" x2="621.4" y2="1011.6" stroke="#999" stroke-width="1"/>
<polygon points="796.8,512.3 858.4,512.3 858.4,683.5 735.5,683.5 735.5,622 796.8,622" fill="none" stroke="#1c1c1c" stroke-width="1.7" stroke-linejoin="miter"/>
<line x1="844.8" y1="512.3" x2="844.8" y2="669.7" stroke="#1c1c1c" stroke-width="1.6"/>
<line x1="796.8" y1="525.5" x2="844.8" y2="525.5" stroke="#1c1c1c" stroke-width="1.6"/>
<line x1="796.8" y1="573.8" x2="844.8" y2="573.8" stroke="#1c1c1c" stroke-width="1.6"/>
<line x1="796.8" y1="622" x2="844.8" y2="622" stroke="#1c1c1c" stroke-width="1.6"/>
<line x1="796.8" y1="622" x2="796.8" y2="683.5" stroke="#1c1c1c" stroke-width="1.6"/>
<line x1="749.7" y1="622" x2="749.7" y2="683.5" stroke="#1c1c1c" stroke-width="1.6"/>
<line x1="735.5" y1="669.7" x2="844.8" y2="669.7" stroke="#1c1c1c" stroke-width="1.6"/>
<line x1="796.8" y1="512.3" x2="796.8" y2="622" stroke="#1c1c1c" stroke-width="1.7"/>
<rect x="728.4" y="382.9" width="137.1" height="63.3" fill="none" stroke="#1c1c1c" stroke-width="1.7"/>
<rect x="756.2" y="367.4" width="34.5" height="34.2" fill="none" stroke="#1c1c1c" stroke-width="1.7"/>
<rect x="805" y="368.7" width="34.5" height="34.5" fill="none" stroke="#1c1c1c" stroke-width="1.7"/>
<rect x="756.2" y="428.4" width="34.5" height="34.1" fill="none" stroke="#1c1c1c" stroke-width="1.7"/>
<rect x="805" y="429.2" width="34.5" height="34.5" fill="none" stroke="#1c1c1c" stroke-width="1.7"/>
<rect x="713.5" y="393.8" width="34.2" height="34.2" fill="none" stroke="#1c1c1c" stroke-width="1.7"/>
<polyline points="865,688.4 717.2,688.4 717.2,705.2 725.3,705.2 725.3,697.1 865,697.1" fill="none" stroke="#1c1c1c" stroke-width="2" stroke-linejoin="miter"/>
<line x1="865.5" y1="697.1" x2="865.5" y2="1095.4" stroke="#1c1c1c" stroke-width="2"/>
<line x1="886.5" y1="705.2" x2="865.5" y2="705.2" stroke="#1c1c1c" stroke-width="2"/>
<line x1="886.5" y1="768.2" x2="865.5" y2="768.2" stroke="#1c1c1c" stroke-width="2"/>
<line x1="867.6" y1="708.2" x2="867.6" y2="765.2" stroke="#777" stroke-width="1.1"/>
<line x1="870.8" y1="708.2" x2="870.8" y2="765.2" stroke="#777" stroke-width="1.1"/>
<line x1="873.9" y1="708.2" x2="873.9" y2="765.2" stroke="#777" stroke-width="1.1"/>
<polyline points="725.3,770.2 717.2,770.2 717.2,894.5 726.1,894.5 726.1,770.2" fill="none" stroke="#1c1c1c" stroke-width="2" stroke-linejoin="miter"/>
<rect x="725.3" y="704" width="62" height="3" fill="none" stroke="#666" stroke-width="1"/>
<path d="M787.3,705.2 A62,62 0 0,1 725.3,767.2" fill="none" stroke="#1c1c1c" stroke-width="1.5"/>
<path d="M855.3,716.4 L826.2,716.4 A17.6,16.8 0 0,0 826.2,750 L855.3,750" fill="none" stroke="#1c1c1c" stroke-width="1.6"/>
<ellipse cx="828.2" cy="733.2" rx="16.8" ry="13.4" fill="none" stroke="#1c1c1c" stroke-width="1.4"/>
<circle cx="829.2" cy="733.2" r="5.8" fill="none" stroke="#1c1c1c" stroke-width="1.4"/>
<rect x="855.3" y="716.4" width="8.1" height="33.6" fill="none" stroke="#1c1c1c" stroke-width="1.5"/>
<circle cx="851.3" cy="721.4" r="0.9" fill="#333" stroke="#1c1c1c" stroke-width="1"/>
<circle cx="851.3" cy="745" r="0.9" fill="#333" stroke="#1c1c1c" stroke-width="1"/>
<rect x="726.1" y="796.8" width="58" height="37.6" fill="none" stroke="#1c1c1c" stroke-width="1.6"/>
<circle cx="755" cy="815.8" r="13.6" fill="none" stroke="#1c1c1c" stroke-width="1.5"/>
<circle cx="755" cy="822" r="1.5" fill="#333" stroke="#1c1c1c" stroke-width="1"/>
<path d="M813.6,834.4 L813.6,803.8 Q813.6,783 838.8,783 L863.9,783" fill="none" stroke="#1c1c1c" stroke-width="1.6"/>
<path d="M817,834.4 L817,805 Q817,786.5 839,786.5 L863.9,786.5" fill="none" stroke="#777" stroke-width="1"/>
<circle cx="854.7" cy="825.2" r="3" fill="none" stroke="#1c1c1c" stroke-width="1.2"/>
<line x1="726.1" y1="834.4" x2="865.5" y2="834.4" stroke="#1c1c1c" stroke-width="2"/>
<line x1="726.1" y1="843.1" x2="865.5" y2="843.1" stroke="#1c1c1c" stroke-width="2"/>
<line x1="865.5" y1="834.4" x2="876" y2="843" stroke="#1c1c1c" stroke-width="1.4"/>
<rect x="726.1" y="843.1" width="137.8" height="51.4" fill="none" stroke="#1c1c1c" stroke-width="1.7"/>
<rect x="650.6" y="788.4" width="2.2" height="61.3" fill="none" stroke="#666" stroke-width="1"/>
<path d="M651,849.7 A62,62 0 0,0 713.5,788.4" fill="none" stroke="#1c1c1c" stroke-width="1.5"/>
<polyline points="641.7,779.7 645,779.7 645,788.4 650.6,788.4" fill="none" stroke="#555" stroke-width="1.2" stroke-linejoin="miter"/>
<polyline points="717.2,770.2 713,779.7 713,788.4" fill="none" stroke="#555" stroke-width="1.2" stroke-linejoin="miter"/>
<line x1="886.5" y1="920.3" x2="865.5" y2="920.3" stroke="#1c1c1c" stroke-width="2"/>
<line x1="886.5" y1="1049.3" x2="865.5" y2="1049.3" stroke="#1c1c1c" stroke-width="2"/>
<line x1="867.6" y1="923.3" x2="867.6" y2="1046.3" stroke="#777" stroke-width="1.1"/>
<line x1="870.8" y1="923.3" x2="870.8" y2="1046.3" stroke="#777" stroke-width="1.1"/>
<line x1="873.9" y1="923.3" x2="873.9" y2="1046.3" stroke="#777" stroke-width="1.1"/>
<line x1="641.7" y1="1095.4" x2="865.5" y2="1095.4" stroke="#1c1c1c" stroke-width="2"/>
<rect x="644.5" y="964.6" width="38.5" height="34.4" fill="none" stroke="#1c1c1c" stroke-width="1.6"/>
<rect x="644.5" y="1015.8" width="163.1" height="77.2" fill="none" stroke="#1c1c1c" stroke-width="1.7"/>
<line x1="646.5" y1="1018" x2="646.5" y2="1091" stroke="#777" stroke-width="1"/>
<line x1="646.5" y1="1091" x2="807" y2="1091" stroke="#777" stroke-width="1"/>
<text x="482" y="225.8" font-size="18.6" textLength="89" lengthAdjust="spacingAndGlyphs" fill="#1e1e1e" stroke="#1e1e1e" stroke-width="0.45">ESCALERA</text>
<text x="497.3" y="253.9" font-size="18.6" textLength="42.4" lengthAdjust="spacingAndGlyphs" fill="#1e1e1e" stroke="#1e1e1e" stroke-width="0.45">4.5m</text>
<text x="540.2" y="246.5" font-size="11.9" textLength="7.4" lengthAdjust="spacingAndGlyphs" fill="#1e1e1e" stroke="#1e1e1e" stroke-width="0.35">2</text>
<text x="627" y="225.8" font-size="18.6" textLength="72.6" lengthAdjust="spacingAndGlyphs" fill="#1e1e1e" stroke="#1e1e1e" stroke-width="0.45">PORCHE</text>
<text x="644.5" y="253.9" font-size="18.6" textLength="43.6" lengthAdjust="spacingAndGlyphs" fill="#1e1e1e" stroke="#1e1e1e" stroke-width="0.45">9.7m</text>
<text x="688.6" y="246.5" font-size="11.9" textLength="7.4" lengthAdjust="spacingAndGlyphs" fill="#1e1e1e" stroke="#1e1e1e" stroke-width="0.35">2</text>
<text x="551.9" y="505.8" font-size="18.6" textLength="158.1" lengthAdjust="spacingAndGlyphs" fill="#1e1e1e" stroke="#1e1e1e" stroke-width="0.45">SALÓN<tspan dy="-2.6">_</tspan><tspan dy="2.6">COMEDOR</tspan></text>
<text x="605" y="526" font-size="18.6" textLength="54.5" lengthAdjust="spacingAndGlyphs" fill="#1e1e1e" stroke="#1e1e1e" stroke-width="0.45">20.7m</text>
<text x="660" y="518.6" font-size="11.9" textLength="7.4" lengthAdjust="spacingAndGlyphs" fill="#1e1e1e" stroke="#1e1e1e" stroke-width="0.35">2</text>
<text x="505.6" y="811.9" font-size="18.6" textLength="64" lengthAdjust="spacingAndGlyphs" fill="#1e1e1e" stroke="#1e1e1e" stroke-width="0.45">COCINA</text>
<text x="512" y="833.5" font-size="18.6" textLength="46.1" lengthAdjust="spacingAndGlyphs" fill="#1e1e1e" stroke="#1e1e1e" stroke-width="0.45">8.0m</text>
<text x="558.6" y="826.1" font-size="11.9" textLength="7.4" lengthAdjust="spacingAndGlyphs" fill="#1e1e1e" stroke="#1e1e1e" stroke-width="0.35">2</text>
<text x="728.4" y="729.6" font-size="18.6" textLength="69" lengthAdjust="spacingAndGlyphs" fill="#1e1e1e" stroke="#1e1e1e" stroke-width="0.45">BAÑO<tspan dy="-2.6">_</tspan><tspan dy="2.6">1</tspan></text>
<text x="739.5" y="754" font-size="18.6" textLength="43.9" lengthAdjust="spacingAndGlyphs" fill="#1e1e1e" stroke="#1e1e1e" stroke-width="0.45">2.6m</text>
<text x="783.9" y="746.6" font-size="11.9" textLength="7.4" lengthAdjust="spacingAndGlyphs" fill="#1e1e1e" stroke="#1e1e1e" stroke-width="0.35">2</text>
<text x="698.8" y="971.1" font-size="18.6" textLength="130.1" lengthAdjust="spacingAndGlyphs" fill="#1e1e1e" stroke="#1e1e1e" stroke-width="0.45">DORMITORIO<tspan dy="-2.6">_</tspan><tspan dy="2.6">1</tspan></text>
<text x="738.1" y="991.9" font-size="18.6" textLength="43.5" lengthAdjust="spacingAndGlyphs" fill="#1e1e1e" stroke="#1e1e1e" stroke-width="0.45">8.2m</text>
<text x="782.1" y="984.5" font-size="11.9" textLength="7.4" lengthAdjust="spacingAndGlyphs" fill="#1e1e1e" stroke="#1e1e1e" stroke-width="0.35">2</text>
<text x="472.7" y="1050.2" font-size="18.6" textLength="78" lengthAdjust="spacingAndGlyphs" fill="#1e1e1e" stroke="#1e1e1e" stroke-width="0.45">TERRAZA</text>
<text x="490.4" y="1073" font-size="18.6" textLength="42.9" lengthAdjust="spacingAndGlyphs" fill="#1e1e1e" stroke="#1e1e1e" stroke-width="0.45">3.9m</text>
<text x="533.8" y="1065.6" font-size="11.9" textLength="7.4" lengthAdjust="spacingAndGlyphs" fill="#1e1e1e" stroke="#1e1e1e" stroke-width="0.35">2</text>
<polyline points="954.6,985.6 954.6,162.9 1016.8,100.3 1099.5,100.3 1160,159.2 1160,188.7 1430.1,188.7 1430.1,1122 1138.7,1122 1138.7,985.6" fill="none" stroke="#1c1c1c" stroke-width="2.2" stroke-linejoin="miter"/>
<line x1="954.6" y1="985.6" x2="1160.4" y2="985.6" stroke="#1c1c1c" stroke-width="2"/>
<polyline points="976,338.4 976,171.4 1025.3,122.3 1090.3,122.3 1136,167.7 1136,351.6" fill="none" stroke="#1c1c1c" stroke-width="2" stroke-linejoin="miter"/>
<polyline points="1004.6,144 1056.8,194.2 1109,142" fill="none" stroke="#1c1c1c" stroke-width="2" stroke-linejoin="miter"/>
<line x1="976" y1="194.8" x2="1136" y2="194.8" stroke="#1c1c1c" stroke-width="2"/>
<line x1="976" y1="218.5" x2="1136" y2="218.5" stroke="#1c1c1c" stroke-width="2"/>
<line x1="976" y1="242.5" x2="1136" y2="242.5" stroke="#1c1c1c" stroke-width="2"/>
<line x1="976" y1="266.3" x2="1136" y2="266.3" stroke="#1c1c1c" stroke-width="2"/>
<line x1="976" y1="290.4" x2="1136" y2="290.4" stroke="#1c1c1c" stroke-width="2"/>
<line x1="976" y1="314.6" x2="1136" y2="314.6" stroke="#1c1c1c" stroke-width="2"/>
<line x1="976" y1="338.4" x2="1136" y2="338.4" stroke="#1c1c1c" stroke-width="2"/>
<line x1="1056.8" y1="194.2" x2="1056.8" y2="338.4" stroke="#1c1c1c" stroke-width="2"/>
<polyline points="1146.5,351.6 1146.5,211 1408.3,211 1408.3,429" fill="none" stroke="#1c1c1c" stroke-width="2" stroke-linejoin="miter"/>
<line x1="1136" y1="351.6" x2="1146.5" y2="351.6" stroke="#1c1c1c" stroke-width="2"/>
<line x1="1242" y1="188.7" x2="1242" y2="211" stroke="#1c1c1c" stroke-width="2"/>
<line x1="1369.2" y1="188.7" x2="1369.2" y2="211" stroke="#1c1c1c" stroke-width="2"/>
<line x1="1245" y1="202.5" x2="1366.2" y2="202.5" stroke="#777" stroke-width="1.1"/>
<line x1="1245" y1="206.1" x2="1366.2" y2="206.1" stroke="#999" stroke-width="1.6"/>
<line x1="1245" y1="209.2" x2="1366.2" y2="209.2" stroke="#777" stroke-width="1.1"/>
<line x1="1397.8" y1="211" x2="1397.8" y2="429" stroke="#999" stroke-width="1"/>
<rect x="1370.8" y="227.4" width="26.2" height="25.8" fill="none" stroke="#1c1c1c" stroke-width="1.6"/>
<rect x="1370.8" y="379.3" width="26.2" height="25.1" fill="none" stroke="#1c1c1c" stroke-width="1.6"/>
<rect x="1234.4" y="259" width="162.6" height="115.4" fill="none" stroke="#1c1c1c" stroke-width="1.7"/>
<rect x="1145" y="414" width="61" height="3" fill="none" stroke="#666" stroke-width="1"/>
<path d="M1206,416 A62,62 0 0,0 1145,354" fill="none" stroke="#1c1c1c" stroke-width="1.5"/>
<polyline points="1135.7,500.5 1135.7,418.4 1145,418.4 1145,500.5 1135.7,500.5" fill="none" stroke="#1c1c1c" stroke-width="2" stroke-linejoin="miter"/>
<line x1="1145" y1="428.9" x2="1408.3" y2="428.9" stroke="#1c1c1c" stroke-width="2"/>
<rect x="1145" y="428.9" width="123.4" height="51.6" fill="none" stroke="#1c1c1c" stroke-width="1.8"/>
<rect x="1276.6" y="437.6" width="131.7" height="51.5" fill="none" stroke="#1c1c1c" stroke-width="1.8"/>
<line x1="1145" y1="489.1" x2="1408.3" y2="489.1" stroke="#1c1c1c" stroke-width="2"/>
<rect x="1145" y="503.5" width="61.3" height="3" fill="none" stroke="#666" stroke-width="1"/>
<path d="M1206.3,504 A61,61 0 0,1 1145,565" fill="none" stroke="#1c1c1c" stroke-width="1.5"/>
<polyline points="1144.1,567.6 1144.1,793.3 1395.5,793.3 1395.5,781.7 1408.3,781.7 1408.3,489.1" fill="none" stroke="#1c1c1c" stroke-width="2" stroke-linejoin="miter"/>
<rect x="1374.4" y="521.2" width="33.9" height="42.9" fill="none" stroke="#1c1c1c" stroke-width="1.6"/>
<rect x="1237.3" y="567.6" width="171" height="137.8" fill="none" stroke="#1c1c1c" stroke-width="1.7"/>
<rect x="1374.4" y="710.1" width="33.9" height="41.9" fill="none" stroke="#1c1c1c" stroke-width="1.6"/>
<line x1="976.3" y1="338.4" x2="976.3" y2="568" stroke="#1c1c1c" stroke-width="2"/>
<line x1="955.2" y1="403.2" x2="976.3" y2="403.2" stroke="#1c1c1c" stroke-width="2"/>
<line x1="955.2" y1="487.6" x2="976.3" y2="487.6" stroke="#1c1c1c" stroke-width="2"/>
<line x1="974.2" y1="406.2" x2="974.2" y2="484.6" stroke="#777" stroke-width="1.1"/>
<line x1="971" y1="406.2" x2="971" y2="484.6" stroke="#777" stroke-width="1.1"/>
<line x1="967.9" y1="406.2" x2="967.9" y2="484.6" stroke="#777" stroke-width="1.1"/>
<polyline points="976,568.1 986.7,568.1" fill="none" stroke="#1c1c1c" stroke-width="2" stroke-linejoin="miter"/>
<polyline points="1051.3,568.1 1144.1,568.1" fill="none" stroke="#1c1c1c" stroke-width="2" stroke-linejoin="miter"/>
<polyline points="1051.3,568.1 1051.3,576.7 1136,576.7 1136,713.4 975.5,713.4 975.5,568.1" fill="none" stroke="#1c1c1c" stroke-width="2" stroke-linejoin="miter"/>
<line x1="954.6" y1="584.4" x2="975.5" y2="584.4" stroke="#1c1c1c" stroke-width="2"/>
<line x1="954.6" y1="627" x2="975.5" y2="627" stroke="#1c1c1c" stroke-width="2"/>
<line x1="973.4" y1="587.4" x2="973.4" y2="624" stroke="#777" stroke-width="1.1"/>
<line x1="970.3" y1="587.4" x2="970.3" y2="624" stroke="#777" stroke-width="1.1"/>
<line x1="967.1" y1="587.4" x2="967.1" y2="624" stroke="#777" stroke-width="1.1"/>
<rect x="986.7" y="575.2" width="2.1" height="63" fill="none" stroke="#666" stroke-width="1"/>
<path d="M987,638.2 A63,63 0 0,0 1050,576" fill="none" stroke="#1c1c1c" stroke-width="1.5"/>
<path d="M975.5,662.6 L1003,662.6 Q1027.3,662.6 1027.3,688 L1027.3,713.4" fill="none" stroke="#1c1c1c" stroke-width="1.6"/>
<path d="M975.5,665.5 L1003,665.5 Q1024.3,665.5 1024.3,688 L1024.3,713.4" fill="none" stroke="#777" stroke-width="1"/>
<circle cx="986.3" cy="704.6" r="3" fill="none" stroke="#1c1c1c" stroke-width="1.2"/>
<rect x="1098.4" y="576.7" width="37.6" height="58.5" fill="none" stroke="#1c1c1c" stroke-width="1.6"/>
<circle cx="1117.1" cy="605.7" r="13.8" fill="none" stroke="#1c1c1c" stroke-width="1.5"/>
<circle cx="1124" cy="605.7" r="1.5" fill="#333" stroke="#1c1c1c" stroke-width="1"/>
<path d="M1127.9,658.5 L1097.8,658.5 A17.6,16.8 0 0,0 1097.8,692 L1127.9,692" fill="none" stroke="#1c1c1c" stroke-width="1.6"/>
<ellipse cx="1100.2" cy="675.2" rx="17.2" ry="13.4" fill="none" stroke="#1c1c1c" stroke-width="1.4"/>
<circle cx="1101.2" cy="675.2" r="5.8" fill="none" stroke="#1c1c1c" stroke-width="1.4"/>
<rect x="1127.9" y="658.5" width="7.5" height="33.5" fill="none" stroke="#1c1c1c" stroke-width="1.5"/>
<circle cx="1123.9" cy="663.5" r="0.9" fill="#333" stroke="#1c1c1c" stroke-width="1"/>
<circle cx="1123.9" cy="687" r="0.9" fill="#333" stroke="#1c1c1c" stroke-width="1"/>
<polyline points="975.5,722.5 1144.1,722.5 1144.1,567.6" fill="none" stroke="#1c1c1c" stroke-width="2" stroke-linejoin="miter"/>
<line x1="976.2" y1="722.5" x2="976.2" y2="882.6" stroke="#1c1c1c" stroke-width="2"/>
<rect x="976.6" y="727.6" width="36.5" height="58.3" fill="none" stroke="#1c1c1c" stroke-width="1.6"/>
<circle cx="994.8" cy="756.6" r="14" fill="none" stroke="#1c1c1c" stroke-width="1.5"/>
<circle cx="988" cy="756.6" r="1.5" fill="#333" stroke="#1c1c1c" stroke-width="1"/>
<rect x="1082.2" y="725.5" width="53.8" height="2.5" fill="none" stroke="#666" stroke-width="1"/>
<path d="M1082.2,727 A54,54 0 0,0 1136,781.4" fill="none" stroke="#1c1c1c" stroke-width="1.5"/>
<polyline points="1136,781.4 1136,882.6" fill="none" stroke="#1c1c1c" stroke-width="2" stroke-linejoin="miter"/>
<polyline points="1144.1,793.3 1144.1,722.5" fill="none" stroke="#1c1c1c" stroke-width="2" stroke-linejoin="miter"/>
<path d="M1127.9,787.1 L1098.7,787.1 A18.5,17.6 0 0,0 1098.7,822.3 L1127.9,822.3" fill="none" stroke="#1c1c1c" stroke-width="1.6"/>
<ellipse cx="1100.2" cy="804.7" rx="17.2" ry="14.1" fill="none" stroke="#1c1c1c" stroke-width="1.4"/>
<circle cx="1101.2" cy="804.7" r="5.8" fill="none" stroke="#1c1c1c" stroke-width="1.4"/>
<rect x="1127.9" y="787.1" width="7.5" height="35.2" fill="none" stroke="#1c1c1c" stroke-width="1.5"/>
<circle cx="1123.9" cy="792.1" r="0.9" fill="#333" stroke="#1c1c1c" stroke-width="1"/>
<circle cx="1123.9" cy="817.3" r="0.9" fill="#333" stroke="#1c1c1c" stroke-width="1"/>
<line x1="976.2" y1="829.2" x2="1136" y2="829.2" stroke="#1c1c1c" stroke-width="2"/>
<rect x="980.6" y="833.2" width="151.4" height="45.9" rx="12" fill="none" stroke="#1c1c1c" stroke-width="1.6"/>
<line x1="976.2" y1="882.6" x2="1136" y2="882.6" stroke="#1c1c1c" stroke-width="2"/>
<line x1="1019.6" y1="903.5" x2="1019.6" y2="882.6" stroke="#1c1c1c" stroke-width="2"/>
<line x1="1070" y1="903.5" x2="1070" y2="882.6" stroke="#1c1c1c" stroke-width="2"/>
<line x1="1022.6" y1="890.5" x2="1067" y2="890.5" stroke="#777" stroke-width="1.1"/>
<line x1="1022.6" y1="887.2" x2="1067" y2="887.2" stroke="#999" stroke-width="1.6"/>
<line x1="1022.6" y1="884.3" x2="1067" y2="884.3" stroke="#777" stroke-width="1.1"/>
<line x1="954.6" y1="903.5" x2="1160.4" y2="903.5" stroke="#1c1c1c" stroke-width="2"/>
<line x1="1232.7" y1="815" x2="1232.7" y2="793.3" stroke="#1c1c1c" stroke-width="2"/>
<line x1="1360.8" y1="815" x2="1360.8" y2="793.3" stroke="#1c1c1c" stroke-width="2"/>
<line x1="1235.7" y1="801.5" x2="1357.8" y2="801.5" stroke="#777" stroke-width="1.1"/>
<line x1="1235.7" y1="798.1" x2="1357.8" y2="798.1" stroke="#999" stroke-width="1.6"/>
<line x1="1235.7" y1="795" x2="1357.8" y2="795" stroke="#777" stroke-width="1.1"/>
<rect x="1159.5" y="815" width="248.7" height="286.2" fill="none" stroke="#1c1c1c" stroke-width="2"/>
<line x1="1429.3" y1="842.4" x2="1408.2" y2="842.4" stroke="#1c1c1c" stroke-width="2"/>
<line x1="1429.3" y1="1081" x2="1408.2" y2="1081" stroke="#1c1c1c" stroke-width="2"/>
<line x1="1410.3" y1="845.4" x2="1410.3" y2="1078" stroke="#777" stroke-width="1.1"/>
<line x1="1413.5" y1="845.4" x2="1413.5" y2="1078" stroke="#777" stroke-width="1.1"/>
<line x1="1416.6" y1="845.4" x2="1416.6" y2="1078" stroke="#777" stroke-width="1.1"/>
<g transform="translate(1209.5,961) rotate(30)">
<path d="M29.6,-31.2 A43,43 0 1,0 29.6,31.2" fill="none" stroke="#1c1c1c" stroke-width="2.4"/>
<path d="M27,-28.5 A39.3,39.3 0 1,0 27,28.5" fill="none" stroke="#444" stroke-width="1.1"/>
<path d="M29.6,-31.2 Q36,0 29.6,31.2" fill="none" stroke="#1c1c1c" stroke-width="1.8"/>
<path d="M29.6,-31.2 L31.5,-14" fill="none" stroke="#222" stroke-width="4"/>
<path d="M31.5,14 L29.6,31.2" fill="none" stroke="#222" stroke-width="4"/>
<circle cx="7" cy="0" r="27" fill="none" stroke="#1c1c1c" stroke-width="1.5"/>
<line x1="0" y1="-27" x2="2" y2="-39.5" stroke="#333" stroke-width="1.1"/>
<line x1="0" y1="27" x2="2" y2="39.5" stroke="#333" stroke-width="1.1"/>
<line x1="26" y1="-22" x2="29" y2="-24" stroke="#333" stroke-width="1"/>
<line x1="26" y1="22" x2="29" y2="24" stroke="#333" stroke-width="1"/>
</g>
<g transform="translate(1237,1055) rotate(-47)">
<path d="M29.6,-31.2 A43,43 0 1,0 29.6,31.2" fill="none" stroke="#1c1c1c" stroke-width="2.4"/>
<path d="M27,-28.5 A39.3,39.3 0 1,0 27,28.5" fill="none" stroke="#444" stroke-width="1.1"/>
<path d="M29.6,-31.2 Q36,0 29.6,31.2" fill="none" stroke="#1c1c1c" stroke-width="1.8"/>
<path d="M29.6,-31.2 L31.5,-14" fill="none" stroke="#222" stroke-width="4"/>
<path d="M31.5,14 L29.6,31.2" fill="none" stroke="#222" stroke-width="4"/>
<circle cx="7" cy="0" r="27" fill="none" stroke="#1c1c1c" stroke-width="1.5"/>
<line x1="0" y1="-27" x2="2" y2="-39.5" stroke="#333" stroke-width="1.1"/>
<line x1="0" y1="27" x2="2" y2="39.5" stroke="#333" stroke-width="1.1"/>
<line x1="26" y1="-22" x2="29" y2="-24" stroke="#333" stroke-width="1"/>
<line x1="26" y1="22" x2="29" y2="24" stroke="#333" stroke-width="1"/>
</g>
<circle cx="1292" cy="991.3" r="31.8" fill="none" stroke="#1c1c1c" stroke-width="1.5"/>
<text x="1238" y="316.5" font-size="18.6" textLength="132.8" lengthAdjust="spacingAndGlyphs" fill="#1e1e1e" stroke="#1e1e1e" stroke-width="0.45">DORMITORIO<tspan dy="-2.6">_</tspan><tspan dy="2.6">2</tspan></text>
<text x="1284" y="336.4" font-size="18.6" textLength="43.8" lengthAdjust="spacingAndGlyphs" fill="#1e1e1e" stroke="#1e1e1e" stroke-width="0.45">8.5m</text>
<text x="1328.3" y="329" font-size="11.9" textLength="7.4" lengthAdjust="spacingAndGlyphs" fill="#1e1e1e" stroke="#1e1e1e" stroke-width="0.35">2</text>
<text x="994.4" y="497" font-size="18.6" textLength="121.4" lengthAdjust="spacingAndGlyphs" fill="#1e1e1e" stroke="#1e1e1e" stroke-width="0.45">DISTRIBUIDOR</text>
<text x="1032" y="516.4" font-size="18.6" textLength="43.1" lengthAdjust="spacingAndGlyphs" fill="#1e1e1e" stroke="#1e1e1e" stroke-width="0.45">5.0m</text>
<text x="1075.6" y="509" font-size="11.9" textLength="7.4" lengthAdjust="spacingAndGlyphs" fill="#1e1e1e" stroke="#1e1e1e" stroke-width="0.35">2</text>
<text x="1245.5" y="614.5" font-size="18.6" textLength="132.4" lengthAdjust="spacingAndGlyphs" fill="#1e1e1e" stroke="#1e1e1e" stroke-width="0.45">DORMITORIO<tspan dy="-2.6">_</tspan><tspan dy="2.6">3</tspan></text>
<text x="1293.5" y="635.1" font-size="18.6" textLength="53" lengthAdjust="spacingAndGlyphs" fill="#1e1e1e" stroke="#1e1e1e" stroke-width="0.45">12.0m</text>
<text x="1347" y="627.7" font-size="11.9" textLength="7.4" lengthAdjust="spacingAndGlyphs" fill="#1e1e1e" stroke="#1e1e1e" stroke-width="0.35">2</text>
<text x="1010" y="642.3" font-size="18.6" textLength="72.2" lengthAdjust="spacingAndGlyphs" fill="#1e1e1e" stroke="#1e1e1e" stroke-width="0.45">BAÑO<tspan dy="-2.6">_</tspan><tspan dy="2.6">2</tspan></text>
<text x="1029.4" y="666" font-size="18.6" textLength="42.9" lengthAdjust="spacingAndGlyphs" fill="#1e1e1e" stroke="#1e1e1e" stroke-width="0.45">3.0m</text>
<text x="1072.8" y="658.6" font-size="11.9" textLength="7.4" lengthAdjust="spacingAndGlyphs" fill="#1e1e1e" stroke="#1e1e1e" stroke-width="0.35">2</text>
<text x="1016.2" y="775" font-size="18.6" textLength="71.1" lengthAdjust="spacingAndGlyphs" fill="#1e1e1e" stroke="#1e1e1e" stroke-width="0.45">BAÑO<tspan dy="-2.6">_</tspan><tspan dy="2.6">3</tspan></text>
<text x="1030.4" y="802.7" font-size="18.6" textLength="41.9" lengthAdjust="spacingAndGlyphs" fill="#1e1e1e" stroke="#1e1e1e" stroke-width="0.45">3.5m</text>
<text x="1072.8" y="795.3" font-size="11.9" textLength="7.4" lengthAdjust="spacingAndGlyphs" fill="#1e1e1e" stroke="#1e1e1e" stroke-width="0.35">2</text>
<text x="1254.9" y="913.3" font-size="18.6" textLength="77.5" lengthAdjust="spacingAndGlyphs" fill="#1e1e1e" stroke="#1e1e1e" stroke-width="0.45">TERRAZA</text>
<text x="1273" y="937" font-size="18.6" textLength="42.9" lengthAdjust="spacingAndGlyphs" fill="#1e1e1e" stroke="#1e1e1e" stroke-width="0.45">9.7m</text>
<text x="1316.4" y="929.6" font-size="11.9" textLength="7.4" lengthAdjust="spacingAndGlyphs" fill="#1e1e1e" stroke="#1e1e1e" stroke-width="0.35">2</text>
<clipPath id="tri"><polygon points="1699.9,60.8 1671,129.2 1698.4,157.7 1699.9,157.7"/></clipPath>
<g clip-path="url(#tri)">
<line x1="1665" y1="64" x2="1702" y2="64" stroke="#b0b0b0" stroke-width="1.7"/>
<line x1="1665" y1="69.4" x2="1702" y2="69.4" stroke="#b0b0b0" stroke-width="1.7"/>
<line x1="1665" y1="74.8" x2="1702" y2="74.8" stroke="#b0b0b0" stroke-width="1.7"/>
<line x1="1665" y1="80.2" x2="1702" y2="80.2" stroke="#b0b0b0" stroke-width="1.7"/>
<line x1="1665" y1="85.6" x2="1702" y2="85.6" stroke="#b0b0b0" stroke-width="1.7"/>
<line x1="1665" y1="91" x2="1702" y2="91" stroke="#b0b0b0" stroke-width="1.7"/>
<line x1="1665" y1="96.4" x2="1702" y2="96.4" stroke="#b0b0b0" stroke-width="1.7"/>
<line x1="1665" y1="101.8" x2="1702" y2="101.8" stroke="#b0b0b0" stroke-width="1.7"/>
<line x1="1665" y1="107.2" x2="1702" y2="107.2" stroke="#b0b0b0" stroke-width="1.7"/>
<line x1="1665" y1="112.6" x2="1702" y2="112.6" stroke="#b0b0b0" stroke-width="1.7"/>
<line x1="1665" y1="118" x2="1702" y2="118" stroke="#b0b0b0" stroke-width="1.7"/>
<line x1="1665" y1="123.4" x2="1702" y2="123.4" stroke="#b0b0b0" stroke-width="1.7"/>
<line x1="1665" y1="128.8" x2="1702" y2="128.8" stroke="#b0b0b0" stroke-width="1.7"/>
<line x1="1665" y1="134.2" x2="1702" y2="134.2" stroke="#b0b0b0" stroke-width="1.7"/>
<line x1="1665" y1="139.6" x2="1702" y2="139.6" stroke="#b0b0b0" stroke-width="1.7"/>
<line x1="1665" y1="145" x2="1702" y2="145" stroke="#b0b0b0" stroke-width="1.7"/>
<line x1="1665" y1="150.4" x2="1702" y2="150.4" stroke="#b0b0b0" stroke-width="1.7"/>
<line x1="1665" y1="155.8" x2="1702" y2="155.8" stroke="#b0b0b0" stroke-width="1.7"/>
</g>
<line x1="1699.9" y1="60.8" x2="1920" y2="60.8" stroke="#1c1c1c" stroke-width="2.2"/>
<line x1="1699.9" y1="60.8" x2="1699.9" y2="156.9" stroke="#1c1c1c" stroke-width="2"/>
<line x1="1699.9" y1="60.8" x2="1671" y2="129.2" stroke="#1c1c1c" stroke-width="2"/>
<line x1="1725.1" y1="90" x2="1738.4" y2="90" stroke="#b0b0b0" stroke-width="1.7"/>
<line x1="1725.1" y1="95.4" x2="1738.4" y2="95.4" stroke="#b0b0b0" stroke-width="1.7"/>
<line x1="1725.1" y1="100.8" x2="1738.4" y2="100.8" stroke="#b0b0b0" stroke-width="1.7"/>
<line x1="1725.1" y1="106.2" x2="1738.4" y2="106.2" stroke="#b0b0b0" stroke-width="1.7"/>
<line x1="1725.1" y1="111.6" x2="1738.4" y2="111.6" stroke="#b0b0b0" stroke-width="1.7"/>
<line x1="1725.1" y1="117" x2="1738.4" y2="117" stroke="#b0b0b0" stroke-width="1.7"/>
<line x1="1725.1" y1="122.4" x2="1738.4" y2="122.4" stroke="#b0b0b0" stroke-width="1.7"/>
<line x1="1725.1" y1="127.8" x2="1738.4" y2="127.8" stroke="#b0b0b0" stroke-width="1.7"/>
<line x1="1725.1" y1="133.2" x2="1738.4" y2="133.2" stroke="#b0b0b0" stroke-width="1.7"/>
<line x1="1725.1" y1="138.6" x2="1738.4" y2="138.6" stroke="#b0b0b0" stroke-width="1.7"/>
<line x1="1725.1" y1="144" x2="1738.4" y2="144" stroke="#b0b0b0" stroke-width="1.7"/>
<line x1="1725.1" y1="149.4" x2="1738.4" y2="149.4" stroke="#b0b0b0" stroke-width="1.7"/>
<line x1="1725.1" y1="154.8" x2="1738.4" y2="154.8" stroke="#b0b0b0" stroke-width="1.7"/>
<rect x="1724.1" y="86.5" width="15.3" height="70.4" fill="none" stroke="#1c1c1c" stroke-width="2"/>
<line x1="1757.1" y1="90" x2="1781" y2="90" stroke="#b0b0b0" stroke-width="1.7"/>
<line x1="1757.1" y1="95.4" x2="1781" y2="95.4" stroke="#b0b0b0" stroke-width="1.7"/>
<line x1="1757.1" y1="100.8" x2="1781" y2="100.8" stroke="#b0b0b0" stroke-width="1.7"/>
<line x1="1757.1" y1="106.2" x2="1781" y2="106.2" stroke="#b0b0b0" stroke-width="1.7"/>
<line x1="1757.1" y1="111.6" x2="1781" y2="111.6" stroke="#b0b0b0" stroke-width="1.7"/>
<line x1="1757.1" y1="117" x2="1781" y2="117" stroke="#b0b0b0" stroke-width="1.7"/>
<line x1="1757.1" y1="122.4" x2="1781" y2="122.4" stroke="#b0b0b0" stroke-width="1.7"/>
<line x1="1757.1" y1="127.8" x2="1781" y2="127.8" stroke="#b0b0b0" stroke-width="1.7"/>
<line x1="1757.1" y1="133.2" x2="1781" y2="133.2" stroke="#b0b0b0" stroke-width="1.7"/>
<line x1="1757.1" y1="138.6" x2="1781" y2="138.6" stroke="#b0b0b0" stroke-width="1.7"/>
<line x1="1757.1" y1="144" x2="1781" y2="144" stroke="#b0b0b0" stroke-width="1.7"/>
<line x1="1757.1" y1="149.4" x2="1781" y2="149.4" stroke="#b0b0b0" stroke-width="1.7"/>
<line x1="1757.1" y1="154.8" x2="1781" y2="154.8" stroke="#b0b0b0" stroke-width="1.7"/>
<rect x="1756.1" y="86.5" width="25.9" height="70.4" fill="none" stroke="#1c1c1c" stroke-width="2"/>
<line x1="1800.1" y1="90" x2="1823.8" y2="90" stroke="#b0b0b0" stroke-width="1.7"/>
<line x1="1800.1" y1="95.4" x2="1823.8" y2="95.4" stroke="#b0b0b0" stroke-width="1.7"/>
<line x1="1800.1" y1="100.8" x2="1823.8" y2="100.8" stroke="#b0b0b0" stroke-width="1.7"/>
<line x1="1800.1" y1="106.2" x2="1823.8" y2="106.2" stroke="#b0b0b0" stroke-width="1.7"/>
<line x1="1800.1" y1="111.6" x2="1823.8" y2="111.6" stroke="#b0b0b0" stroke-width="1.7"/>
<line x1="1800.1" y1="117" x2="1823.8" y2="117" stroke="#b0b0b0" stroke-width="1.7"/>
<line x1="1800.1" y1="122.4" x2="1823.8" y2="122.4" stroke="#b0b0b0" stroke-width="1.7"/>
<line x1="1800.1" y1="127.8" x2="1823.8" y2="127.8" stroke="#b0b0b0" stroke-width="1.7"/>
<line x1="1800.1" y1="133.2" x2="1823.8" y2="133.2" stroke="#b0b0b0" stroke-width="1.7"/>
<line x1="1800.1" y1="138.6" x2="1823.8" y2="138.6" stroke="#b0b0b0" stroke-width="1.7"/>
<line x1="1800.1" y1="144" x2="1823.8" y2="144" stroke="#b0b0b0" stroke-width="1.7"/>
<line x1="1800.1" y1="149.4" x2="1823.8" y2="149.4" stroke="#b0b0b0" stroke-width="1.7"/>
<line x1="1800.1" y1="154.8" x2="1823.8" y2="154.8" stroke="#b0b0b0" stroke-width="1.7"/>
<rect x="1799.1" y="86.5" width="25.7" height="70.4" fill="none" stroke="#1c1c1c" stroke-width="2"/>
<line x1="1843.2" y1="90" x2="1866.9" y2="90" stroke="#b0b0b0" stroke-width="1.7"/>
<line x1="1843.2" y1="95.4" x2="1866.9" y2="95.4" stroke="#b0b0b0" stroke-width="1.7"/>
<line x1="1843.2" y1="100.8" x2="1866.9" y2="100.8" stroke="#b0b0b0" stroke-width="1.7"/>
<line x1="1843.2" y1="106.2" x2="1866.9" y2="106.2" stroke="#b0b0b0" stroke-width="1.7"/>
<line x1="1843.2" y1="111.6" x2="1866.9" y2="111.6" stroke="#b0b0b0" stroke-width="1.7"/>
<line x1="1843.2" y1="117" x2="1866.9" y2="117" stroke="#b0b0b0" stroke-width="1.7"/>
<line x1="1843.2" y1="122.4" x2="1866.9" y2="122.4" stroke="#b0b0b0" stroke-width="1.7"/>
<line x1="1843.2" y1="127.8" x2="1866.9" y2="127.8" stroke="#b0b0b0" stroke-width="1.7"/>
<line x1="1843.2" y1="133.2" x2="1866.9" y2="133.2" stroke="#b0b0b0" stroke-width="1.7"/>
<line x1="1843.2" y1="138.6" x2="1866.9" y2="138.6" stroke="#b0b0b0" stroke-width="1.7"/>
<line x1="1843.2" y1="144" x2="1866.9" y2="144" stroke="#b0b0b0" stroke-width="1.7"/>
<line x1="1843.2" y1="149.4" x2="1866.9" y2="149.4" stroke="#b0b0b0" stroke-width="1.7"/>
<line x1="1843.2" y1="154.8" x2="1866.9" y2="154.8" stroke="#b0b0b0" stroke-width="1.7"/>
<rect x="1842.2" y="86.5" width="25.7" height="70.4" fill="none" stroke="#1c1c1c" stroke-width="2"/>
<line x1="1886" y1="90" x2="1909.7" y2="90" stroke="#b0b0b0" stroke-width="1.7"/>
<line x1="1886" y1="95.4" x2="1909.7" y2="95.4" stroke="#b0b0b0" stroke-width="1.7"/>
<line x1="1886" y1="100.8" x2="1909.7" y2="100.8" stroke="#b0b0b0" stroke-width="1.7"/>
<line x1="1886" y1="106.2" x2="1909.7" y2="106.2" stroke="#b0b0b0" stroke-width="1.7"/>
<line x1="1886" y1="111.6" x2="1909.7" y2="111.6" stroke="#b0b0b0" stroke-width="1.7"/>
<line x1="1886" y1="117" x2="1909.7" y2="117" stroke="#b0b0b0" stroke-width="1.7"/>
<line x1="1886" y1="122.4" x2="1909.7" y2="122.4" stroke="#b0b0b0" stroke-width="1.7"/>
<line x1="1886" y1="127.8" x2="1909.7" y2="127.8" stroke="#b0b0b0" stroke-width="1.7"/>
<line x1="1886" y1="133.2" x2="1909.7" y2="133.2" stroke="#b0b0b0" stroke-width="1.7"/>
<line x1="1886" y1="138.6" x2="1909.7" y2="138.6" stroke="#b0b0b0" stroke-width="1.7"/>
<line x1="1886" y1="144" x2="1909.7" y2="144" stroke="#b0b0b0" stroke-width="1.7"/>
<line x1="1886" y1="149.4" x2="1909.7" y2="149.4" stroke="#b0b0b0" stroke-width="1.7"/>
<line x1="1886" y1="154.8" x2="1909.7" y2="154.8" stroke="#b0b0b0" stroke-width="1.7"/>
<rect x="1885" y="86.5" width="25.7" height="70.4" fill="none" stroke="#1c1c1c" stroke-width="2"/>
<clipPath id="tc721"><rect x="1699" y="157.5" width="221" height="87.5"/></clipPath>
<g clip-path="url(#tc721)" fill="none"><path d="M1718,157.5V245 M1732.8,157.5V245 M1751.5,157.5V245 M1766.3,157.5V245 M1785,157.5V245 M1799.8,157.5V245 M1818.5,157.5V245 M1833.3,157.5V245 M1852,157.5V245 M1866.8,157.5V245 M1885.5,157.5V245 M1900.3,157.5V245 M1919,157.5V245" stroke="#b4b4b4" stroke-width="1.2"/><path d="M1684.5,171.5 A7.4,5.9 0 0,1 1699.3,171.5 M1684.5,196.5 A7.4,5.9 0 0,1 1699.3,196.5 M1684.5,221.5 A7.4,5.9 0 0,1 1699.3,221.5 M1699.3,158.1 A9.4,7.5 0 0,0 1718,158.1 M1699.3,183.1 A9.4,7.5 0 0,0 1718,183.1 M1699.3,208.1 A9.4,7.5 0 0,0 1718,208.1 M1699.3,233.1 A9.4,7.5 0 0,0 1718,233.1 M1718,171.5 A7.4,5.9 0 0,1 1732.8,171.5 M1718,196.5 A7.4,5.9 0 0,1 1732.8,196.5 M1718,221.5 A7.4,5.9 0 0,1 1732.8,221.5 M1732.8,158.1 A9.4,7.5 0 0,0 1751.5,158.1 M1732.8,183.1 A9.4,7.5 0 0,0 1751.5,183.1 M1732.8,208.1 A9.4,7.5 0 0,0 1751.5,208.1 M1732.8,233.1 A9.4,7.5 0 0,0 1751.5,233.1 M1751.5,171.5 A7.4,5.9 0 0,1 1766.3,171.5 M1751.5,196.5 A7.4,5.9 0 0,1 1766.3,196.5 M1751.5,221.5 A7.4,5.9 0 0,1 1766.3,221.5 M1766.3,158.1 A9.4,7.5 0 0,0 1785,158.1 M1766.3,183.1 A9.4,7.5 0 0,0 1785,183.1 M1766.3,208.1 A9.4,7.5 0 0,0 1785,208.1 M1766.3,233.1 A9.4,7.5 0 0,0 1785,233.1 M1785,171.5 A7.4,5.9 0 0,1 1799.8,171.5 M1785,196.5 A7.4,5.9 0 0,1 1799.8,196.5 M1785,221.5 A7.4,5.9 0 0,1 1799.8,221.5 M1799.8,158.1 A9.4,7.5 0 0,0 1818.5,158.1 M1799.8,183.1 A9.4,7.5 0 0,0 1818.5,183.1 M1799.8,208.1 A9.4,7.5 0 0,0 1818.5,208.1 M1799.8,233.1 A9.4,7.5 0 0,0 1818.5,233.1 M1818.5,171.5 A7.4,5.9 0 0,1 1833.3,171.5 M1818.5,196.5 A7.4,5.9 0 0,1 1833.3,196.5 M1818.5,221.5 A7.4,5.9 0 0,1 1833.3,221.5 M1833.3,158.1 A9.4,7.5 0 0,0 1852,158.1 M1833.3,183.1 A9.4,7.5 0 0,0 1852,183.1 M1833.3,208.1 A9.4,7.5 0 0,0 1852,208.1 M1833.3,233.1 A9.4,7.5 0 0,0 1852,233.1 M1852,171.5 A7.4,5.9 0 0,1 1866.8,171.5 M1852,196.5 A7.4,5.9 0 0,1 1866.8,196.5 M1852,221.5 A7.4,5.9 0 0,1 1866.8,221.5 M1866.8,158.1 A9.4,7.5 0 0,0 1885.5,158.1 M1866.8,183.1 A9.4,7.5 0 0,0 1885.5,183.1 M1866.8,208.1 A9.4,7.5 0 0,0 1885.5,208.1 M1866.8,233.1 A9.4,7.5 0 0,0 1885.5,233.1 M1885.5,171.5 A7.4,5.9 0 0,1 1900.3,171.5 M1885.5,196.5 A7.4,5.9 0 0,1 1900.3,196.5 M1885.5,221.5 A7.4,5.9 0 0,1 1900.3,221.5 M1900.3,158.1 A9.4,7.5 0 0,0 1919,158.1 M1900.3,183.1 A9.4,7.5 0 0,0 1919,183.1 M1900.3,208.1 A9.4,7.5 0 0,0 1919,208.1 M1900.3,233.1 A9.4,7.5 0 0,0 1919,233.1 M1919,171.5 A7.4,5.9 0 0,1 1933.8,171.5 M1919,196.5 A7.4,5.9 0 0,1 1933.8,196.5 M1919,221.5 A7.4,5.9 0 0,1 1933.8,221.5" stroke="#a6a6a6" stroke-width="1.9"/><path d="M1686,173.5 A5.9,5.9 0 0,1 1697.8,173.5 M1686,198.5 A5.9,5.9 0 0,1 1697.8,198.5 M1686,223.5 A5.9,5.9 0 0,1 1697.8,223.5 M1700.8,156.1 A7.9,7.5 0 0,0 1716.5,156.1 M1700.8,181.1 A7.9,7.5 0 0,0 1716.5,181.1 M1700.8,206.1 A7.9,7.5 0 0,0 1716.5,206.1 M1700.8,231.1 A7.9,7.5 0 0,0 1716.5,231.1 M1719.5,173.5 A5.9,5.9 0 0,1 1731.3,173.5 M1719.5,198.5 A5.9,5.9 0 0,1 1731.3,198.5 M1719.5,223.5 A5.9,5.9 0 0,1 1731.3,223.5 M1734.3,156.1 A7.9,7.5 0 0,0 1750,156.1 M1734.3,181.1 A7.9,7.5 0 0,0 1750,181.1 M1734.3,206.1 A7.9,7.5 0 0,0 1750,206.1 M1734.3,231.1 A7.9,7.5 0 0,0 1750,231.1 M1753,173.5 A5.9,5.9 0 0,1 1764.8,173.5 M1753,198.5 A5.9,5.9 0 0,1 1764.8,198.5 M1753,223.5 A5.9,5.9 0 0,1 1764.8,223.5 M1767.8,156.1 A7.9,7.5 0 0,0 1783.5,156.1 M1767.8,181.1 A7.9,7.5 0 0,0 1783.5,181.1 M1767.8,206.1 A7.9,7.5 0 0,0 1783.5,206.1 M1767.8,231.1 A7.9,7.5 0 0,0 1783.5,231.1 M1786.5,173.5 A5.9,5.9 0 0,1 1798.3,173.5 M1786.5,198.5 A5.9,5.9 0 0,1 1798.3,198.5 M1786.5,223.5 A5.9,5.9 0 0,1 1798.3,223.5 M1801.3,156.1 A7.9,7.5 0 0,0 1817,156.1 M1801.3,181.1 A7.9,7.5 0 0,0 1817,181.1 M1801.3,206.1 A7.9,7.5 0 0,0 1817,206.1 M1801.3,231.1 A7.9,7.5 0 0,0 1817,231.1 M1820,173.5 A5.9,5.9 0 0,1 1831.8,173.5 M1820,198.5 A5.9,5.9 0 0,1 1831.8,198.5 M1820,223.5 A5.9,5.9 0 0,1 1831.8,223.5 M1834.8,156.1 A7.9,7.5 0 0,0 1850.5,156.1 M1834.8,181.1 A7.9,7.5 0 0,0 1850.5,181.1 M1834.8,206.1 A7.9,7.5 0 0,0 1850.5,206.1 M1834.8,231.1 A7.9,7.5 0 0,0 1850.5,231.1 M1853.5,173.5 A5.9,5.9 0 0,1 1865.3,173.5 M1853.5,198.5 A5.9,5.9 0 0,1 1865.3,198.5 M1853.5,223.5 A5.9,5.9 0 0,1 1865.3,223.5 M1868.3,156.1 A7.9,7.5 0 0,0 1884,156.1 M1868.3,181.1 A7.9,7.5 0 0,0 1884,181.1 M1868.3,206.1 A7.9,7.5 0 0,0 1884,206.1 M1868.3,231.1 A7.9,7.5 0 0,0 1884,231.1 M1887,173.5 A5.9,5.9 0 0,1 1898.8,173.5 M1887,198.5 A5.9,5.9 0 0,1 1898.8,198.5 M1887,223.5 A5.9,5.9 0 0,1 1898.8,223.5 M1901.8,156.1 A7.9,7.5 0 0,0 1917.5,156.1 M1901.8,181.1 A7.9,7.5 0 0,0 1917.5,181.1 M1901.8,206.1 A7.9,7.5 0 0,0 1917.5,206.1 M1901.8,231.1 A7.9,7.5 0 0,0 1917.5,231.1 M1920.5,173.5 A5.9,5.9 0 0,1 1932.3,173.5 M1920.5,198.5 A5.9,5.9 0 0,1 1932.3,198.5 M1920.5,223.5 A5.9,5.9 0 0,1 1932.3,223.5" stroke="#bcbcbc" stroke-width="1.1"/></g>
<line x1="1698" y1="156.9" x2="1920" y2="156.9" stroke="#1c1c1c" stroke-width="2"/>
<g transform="translate(1920,222) rotate(90)">
<clipPath id="tc725"><rect x="0" y="0" width="543" height="16.5"/></clipPath>
<g clip-path="url(#tc725)" fill="none"><path d="M2,0V16.5 M16.8,0V16.5 M35.5,0V16.5 M50.3,0V16.5 M69,0V16.5 M83.8,0V16.5 M102.5,0V16.5 M117.3,0V16.5 M136,0V16.5 M150.8,0V16.5 M169.5,0V16.5 M184.3,0V16.5 M203,0V16.5 M217.8,0V16.5 M236.5,0V16.5 M251.3,0V16.5 M270,0V16.5 M284.8,0V16.5 M303.5,0V16.5 M318.3,0V16.5 M337,0V16.5 M351.8,0V16.5 M370.5,0V16.5 M385.3,0V16.5 M404,0V16.5 M418.8,0V16.5 M437.5,0V16.5 M452.3,0V16.5 M471,0V16.5 M485.8,0V16.5 M504.5,0V16.5 M519.3,0V16.5 M538,0V16.5" stroke="#b4b4b4" stroke-width="1.2"/><path d="M-16.7,16 A9.3,7.5 0 0,1 2,16 M2,2.6 A7.4,5.9 0 0,0 16.8,2.6 M16.8,16 A9.3,7.5 0 0,1 35.5,16 M35.5,2.6 A7.4,5.9 0 0,0 50.3,2.6 M50.3,16 A9.4,7.5 0 0,1 69,16 M69,2.6 A7.4,5.9 0 0,0 83.8,2.6 M83.8,16 A9.4,7.5 0 0,1 102.5,16 M102.5,2.6 A7.4,5.9 0 0,0 117.3,2.6 M117.3,16 A9.4,7.5 0 0,1 136,16 M136,2.6 A7.4,5.9 0 0,0 150.8,2.6 M150.8,16 A9.3,7.5 0 0,1 169.5,16 M169.5,2.6 A7.4,5.9 0 0,0 184.3,2.6 M184.3,16 A9.3,7.5 0 0,1 203,16 M203,2.6 A7.4,5.9 0 0,0 217.8,2.6 M217.8,16 A9.3,7.5 0 0,1 236.5,16 M236.5,2.6 A7.4,5.9 0 0,0 251.3,2.6 M251.3,16 A9.3,7.5 0 0,1 270,16 M270,2.6 A7.4,5.9 0 0,0 284.8,2.6 M284.8,16 A9.3,7.5 0 0,1 303.5,16 M303.5,2.6 A7.4,5.9 0 0,0 318.3,2.6 M318.3,16 A9.3,7.5 0 0,1 337,16 M337,2.6 A7.4,5.9 0 0,0 351.8,2.6 M351.8,16 A9.3,7.5 0 0,1 370.5,16 M370.5,2.6 A7.4,5.9 0 0,0 385.3,2.6 M385.3,16 A9.3,7.5 0 0,1 404,16 M404,2.6 A7.4,5.9 0 0,0 418.8,2.6 M418.8,16 A9.3,7.5 0 0,1 437.5,16 M437.5,2.6 A7.4,5.9 0 0,0 452.3,2.6 M452.3,16 A9.3,7.5 0 0,1 471,16 M471,2.6 A7.4,5.9 0 0,0 485.8,2.6 M485.8,16 A9.3,7.5 0 0,1 504.5,16 M504.5,2.6 A7.4,5.9 0 0,0 519.3,2.6 M519.3,16 A9.4,7.5 0 0,1 538,16 M538,2.6 A7.4,5.9 0 0,0 552.8,2.6" stroke="#a6a6a6" stroke-width="1.9"/><path d="M-15.2,18 A7.8,7.5 0 0,1 0.5,18 M3.5,0.6 A5.9,5.9 0 0,0 15.3,0.6 M18.3,18 A7.8,7.5 0 0,1 34,18 M37,0.6 A5.9,5.9 0 0,0 48.8,0.6 M51.8,18 A7.9,7.5 0 0,1 67.5,18 M70.5,0.6 A5.9,5.9 0 0,0 82.3,0.6 M85.3,18 A7.9,7.5 0 0,1 101,18 M104,0.6 A5.9,5.9 0 0,0 115.8,0.6 M118.8,18 A7.9,7.5 0 0,1 134.5,18 M137.5,0.6 A5.9,5.9 0 0,0 149.3,0.6 M152.3,18 A7.8,7.5 0 0,1 168,18 M171,0.6 A5.9,5.9 0 0,0 182.8,0.6 M185.8,18 A7.8,7.5 0 0,1 201.5,18 M204.5,0.6 A5.9,5.9 0 0,0 216.3,0.6 M219.3,18 A7.8,7.5 0 0,1 235,18 M238,0.6 A5.9,5.9 0 0,0 249.8,0.6 M252.8,18 A7.8,7.5 0 0,1 268.5,18 M271.5,0.6 A5.9,5.9 0 0,0 283.3,0.6 M286.3,18 A7.8,7.5 0 0,1 302,18 M305,0.6 A5.9,5.9 0 0,0 316.8,0.6 M319.8,18 A7.8,7.5 0 0,1 335.5,18 M338.5,0.6 A5.9,5.9 0 0,0 350.3,0.6 M353.3,18 A7.8,7.5 0 0,1 369,18 M372,0.6 A5.9,5.9 0 0,0 383.8,0.6 M386.8,18 A7.8,7.5 0 0,1 402.5,18 M405.5,0.6 A5.9,5.9 0 0,0 417.3,0.6 M420.3,18 A7.8,7.5 0 0,1 436,18 M439,0.6 A5.9,5.9 0 0,0 450.8,0.6 M453.8,18 A7.8,7.5 0 0,1 469.5,18 M472.5,0.6 A5.9,5.9 0 0,0 484.3,0.6 M487.3,18 A7.8,7.5 0 0,1 503,18 M506,0.6 A5.9,5.9 0 0,0 517.8,0.6 M520.8,18 A7.9,7.5 0 0,1 536.5,18 M539.5,0.6 A5.9,5.9 0 0,0 551.3,0.6" stroke="#bcbcbc" stroke-width="1.1"/></g>
</g>
<line x1="1698.4" y1="245.3" x2="1903.5" y2="245.3" stroke="#1c1c1c" stroke-width="2.2"/>
<line x1="1903.5" y1="245.3" x2="1920" y2="222.3" stroke="#1c1c1c" stroke-width="2"/>
<line x1="1903.5" y1="245.3" x2="1903.5" y2="765.1" stroke="#1c1c1c" stroke-width="2"/>
<polyline points="1496.3,699.3 1496.3,162.7 1557.2,100.8 1640.5,100.8 1698.4,157.7 1698.4,370 1637,432 1552.9,432 1496.3,373.6" fill="none" stroke="#1c1c1c" stroke-width="2.2" stroke-linejoin="miter"/>
<line x1="1508" y1="385.7" x2="1508" y2="699.3" stroke="#1c1c1c" stroke-width="2"/>
<polyline points="1564.6,410.8 1517,363.7 1517,171.9 1566.3,122.1 1631.3,122.1 1677,167.8 1677,361.9 1628.4,410.8" fill="none" stroke="#1c1c1c" stroke-width="2" stroke-linejoin="miter"/>
<polyline points="1546,143.4 1597.8,194.6 1649.6,142.4" fill="none" stroke="#1c1c1c" stroke-width="2" stroke-linejoin="miter"/>
<line x1="1517" y1="194.6" x2="1677" y2="194.6" stroke="#1c1c1c" stroke-width="2"/>
<line x1="1517" y1="218.2" x2="1677" y2="218.2" stroke="#1c1c1c" stroke-width="2"/>
<line x1="1517" y1="242.2" x2="1677" y2="242.2" stroke="#1c1c1c" stroke-width="2"/>
<line x1="1517" y1="266.9" x2="1677" y2="266.9" stroke="#1c1c1c" stroke-width="2"/>
<line x1="1517" y1="290.7" x2="1677" y2="290.7" stroke="#1c1c1c" stroke-width="2"/>
<line x1="1517" y1="314.3" x2="1677" y2="314.3" stroke="#1c1c1c" stroke-width="2"/>
<line x1="1517" y1="338.5" x2="1677" y2="338.5" stroke="#1c1c1c" stroke-width="2"/>
<line x1="1598" y1="194.6" x2="1598" y2="338.5" stroke="#1c1c1c" stroke-width="2"/>
<polyline points="1564.6,410.8 1566.6,410.8 1566.6,432" fill="none" stroke="#444" stroke-width="1.3" stroke-linejoin="miter"/>
<polyline points="1628.4,410.8 1624,410.8 1624,432" fill="none" stroke="#444" stroke-width="1.3" stroke-linejoin="miter"/>
<rect x="1566.4" y="419.4" width="3.6" height="54.8" fill="none" stroke="#666" stroke-width="1"/>
<path d="M1567.3,474.2 A62,62 0 0,0 1624,414" fill="none" stroke="#1c1c1c" stroke-width="1.4"/>
<polygon points="1542.8,572.6 1588.8,532.4 1679.5,633.9 1633.6,676" fill="none" stroke="#1c1c1c" stroke-width="1.7" stroke-linejoin="miter"/>
<line x1="1560.8" y1="591.8" x2="1606.8" y2="555.4" stroke="#1c1c1c" stroke-width="1.6"/>
<line x1="1616.3" y1="557.3" x2="1648.9" y2="591.8" stroke="#1c1c1c" stroke-width="1.4"/>
<line x1="1562.7" y1="604.4" x2="1593.4" y2="641.6" stroke="#1c1c1c" stroke-width="1.4"/>
<polygon points="1753.4,494.9 1814.7,511.4 1776.4,644.2 1717.8,630.1" fill="none" stroke="#1c1c1c" stroke-width="1.7" stroke-linejoin="miter"/>
<line x1="1746.5" y1="521" x2="1807" y2="537.4" stroke="#1c1c1c" stroke-width="1.6"/>
<line x1="1740.8" y1="530.5" x2="1727.4" y2="593.7" stroke="#1c1c1c" stroke-width="1.4"/>
<line x1="1809.7" y1="547.8" x2="1796.3" y2="593.7" stroke="#1c1c1c" stroke-width="1.4"/>
<circle cx="1689" cy="589.1" r="21.8" fill="none" stroke="#1c1c1c" stroke-width="1.5"/>
<g fill="#1f9a4a">
<circle cx="1822" cy="309" r="25.6"/>
<polygon points="1838,311.2 1866.8,311 1894.3,308.6 1866.8,306.4 1838,306.6"/>
<polygon points="1837.3,314.1 1864.7,319 1891.5,321.4 1865.5,314.4 1838.2,309.5"/>
<polygon points="1836.9,315.2 1865.1,322.5 1892.4,327.2 1866.2,318 1838.1,310.8"/>
<polygon points="1836.3,316.5 1863,325.9 1889.3,332.8 1864.5,321.6 1837.9,312.2"/>
<polygon points="1834.8,318.9 1862,334.4 1888.3,346.8 1864.3,330.5 1837,314.9"/>
<polygon points="1834.1,319.7 1855.9,333.9 1878.7,346.1 1858.4,330.1 1836.6,315.8"/>
<polygon points="1832.7,321.1 1856.7,341.5 1880.4,358.7 1859.7,338 1835.7,317.6"/>
<polygon points="1830.1,323 1844.4,341.2 1861.1,358.6 1848.1,338.3 1833.7,320.1"/>
<polygon points="1827.8,324.1 1843.9,353.1 1860.6,378.4 1847.9,350.9 1831.8,321.9"/>
<polygon points="1826.4,324.5 1838.5,351.4 1852,375.8 1842.7,349.5 1830.6,322.7"/>
<polygon points="1825.4,324.8 1833.4,346.2 1843.8,367.8 1837.7,344.6 1829.7,323.2"/>
<polygon points="1822.7,325.1 1827,348.1 1833.7,371.4 1831.5,347.2 1827.2,324.3"/>
<polygon points="1821.3,325.1 1823.8,350.4 1828.7,375.3 1828.4,349.9 1825.9,324.7"/>
<polygon points="1819.6,325 1819.4,352.7 1821.5,379.6 1824,352.8 1824.2,325"/>
<polygon points="1816.9,324.3 1811.1,355.7 1808.1,385 1815.6,356.5 1821.4,325.2"/>
<polygon points="1814.8,323.5 1805.6,351.7 1799.1,379 1810,353.1 1819.2,324.9"/>
<polygon points="1813.1,322.5 1800.4,349.6 1790.5,376 1804.5,351.5 1817.3,324.5"/>
<polygon points="1811.5,321.3 1797.9,343.1 1786.2,366 1801.8,345.6 1815.4,323.8"/>
<polygon points="1809.4,319.1 1786.5,343.7 1767.5,367.4 1789.9,346.8 1812.8,322.3"/>
<polygon points="1808.4,317.7 1785.4,337.6 1765.4,358 1788.4,341.1 1811.4,321.2"/>
<polygon points="1807.9,316.9 1787.8,332.1 1769.1,349.2 1790.6,335.8 1810.7,320.5"/>
<polygon points="1807,315.1 1786.8,326.9 1767,341.1 1789.1,330.9 1809.3,319"/>
<polygon points="1806.2,312.2 1780.7,321.4 1756.6,332.5 1782.3,325.7 1807.7,316.6"/>
<polygon points="1805.9,310.1 1779.6,315.7 1754.3,323.4 1780.5,320.2 1806.8,314.6"/>
<polygon points="1805.9,307.8 1774,310.1 1744.9,314.5 1774.3,314.7 1806.2,312.4"/>
<polygon points="1805.9,307.7 1781,309.2 1756,313 1781.2,313.8 1806.2,312.3"/>
<polygon points="1806.6,304 1779.3,299.1 1752.4,296.7 1778.5,303.6 1805.8,308.5"/>
<polygon points="1807.5,301.9 1781.7,293.7 1755.9,287.9 1780.3,298.1 1806.1,306.3"/>
<polygon points="1807.6,301.7 1779.6,292.2 1752.4,285.5 1778.1,296.6 1806.1,306.1"/>
<polygon points="1809.4,298.9 1787.4,285.8 1764.3,274.7 1785,289.7 1807.1,302.8"/>
<polygon points="1809.9,298.3 1787.8,283.9 1764.9,271.7 1785.3,287.8 1807.3,302.2"/>
<polygon points="1812.6,295.8 1791.3,273.4 1769.8,254.2 1787.9,276.6 1809.3,299"/>
<polygon points="1813,295.6 1795.9,276.8 1777.1,259.6 1792.5,279.9 1809.5,298.7"/>
<polygon points="1814.7,294.6 1801.2,275.5 1785.5,257.1 1797.5,278.2 1810.9,297.2"/>
<polygon points="1817.8,293.4 1808.1,270.7 1796.2,248.8 1803.9,272.6 1813.6,295.2"/>
<polygon points="1819.4,293.1 1811,266.8 1800.8,242 1806.6,268.2 1815,294.4"/>
<polygon points="1820.7,292.9 1813.8,263 1805.2,235.6 1809.3,264 1816.2,293.9"/>
<polygon points="1822.6,292.8 1819.4,263.3 1814.1,235.7 1814.8,263.8 1818,293.3"/>
<polygon points="1824.6,293 1825,265.8 1823.2,239.2 1820.4,265.7 1820,293"/>
<polygon points="1826.7,293.5 1830.7,268.2 1832.3,242.6 1826.1,267.5 1822.2,292.8"/>
<polygon points="1829.9,294.9 1841.3,265.6 1849.7,237.7 1837,263.9 1825.7,293.3"/>
<polygon points="1830.6,295.3 1843.7,265.7 1853.5,237.7 1839.4,263.9 1826.4,293.4"/>
<polygon points="1832.1,296.4 1845.7,273.1 1857.1,249.2 1841.8,270.8 1828.1,294"/>
<polygon points="1834.4,298.7 1854.3,276.6 1871.3,254.3 1850.9,273.5 1831,295.6"/>
<polygon points="1834.8,299.1 1858.1,275 1877.5,251.6 1854.8,271.8 1831.5,295.9"/>
<polygon points="1836,301 1856.1,285.3 1874.8,267.8 1853.3,281.6 1833.2,297.3"/>
<polygon points="1837.3,303.8 1860.7,291.9 1882.8,278.1 1858.7,287.8 1835.2,299.7"/>
<polygon points="1837.6,304.9 1859.2,295.7 1880.6,284.1 1857.5,291.5 1835.8,300.6"/>
<polygon points="1838,306.5 1865.7,297.9 1891.4,287.5 1864.3,293.5 1836.6,302.1"/>
<polygon points="1838.2,308.8 1867.1,304.2 1894.1,297.6 1866.3,299.7 1837.4,304.2"/>
</g>
<g fill="#1f9a4a">
<circle cx="1877" cy="333" r="19.4"/>
<polygon points="1887.8,335 1908,334.9 1926.9,332.8 1908,330.9 1887.8,331"/>
<polygon points="1887.3,336.9 1903.4,339.8 1920.1,340.7 1904.1,335.8 1888,332.9"/>
<polygon points="1886.9,337.7 1904.4,342.2 1922.1,344.8 1905.4,338.4 1888,333.8"/>
<polygon points="1885.9,339.4 1905.1,348.6 1923.7,355.2 1906.8,345 1887.6,335.8"/>
<polygon points="1884.4,341.1 1900.1,353.1 1916.2,362.9 1902.5,349.9 1886.8,338"/>
<polygon points="1883.2,342.1 1897.3,356.5 1912.1,368.6 1900.2,353.7 1886,339.3"/>
<polygon points="1882.1,342.7 1893.7,357.2 1906.4,370.1 1896.8,354.8 1885.3,340.2"/>
<polygon points="1880.5,343.4 1891.3,362.6 1902.9,379.1 1894.8,360.6 1884,341.4"/>
<polygon points="1879,343.8 1886.7,363.7 1895.6,381.4 1890.4,362.3 1882.7,342.4"/>
<polygon points="1877.3,344 1881.5,363.9 1887.4,382.2 1885.4,363.1 1881.2,343.2"/>
<polygon points="1875.2,343.8 1875.6,362.1 1877.9,379.9 1879.6,362 1879.2,343.8"/>
<polygon points="1872.9,343.2 1869.9,358.3 1868.7,374.5 1873.8,359.1 1876.8,344"/>
<polygon points="1872.3,342.9 1866.6,364.2 1863.3,384.2 1870.4,365.3 1876.1,343.9"/>
<polygon points="1870.3,341.7 1863,355.9 1857.3,371.5 1866.6,357.8 1873.9,343.5"/>
<polygon points="1868.6,340.1 1854.5,357.3 1843.2,374.3 1857.6,359.9 1871.7,342.6"/>
<polygon points="1868.2,339.6 1855.8,353.3 1845.2,367.9 1858.8,356 1871.2,342.3"/>
<polygon points="1867.3,338.2 1853.5,349.1 1841.1,361.5 1856,352.3 1869.8,341.3"/>
<polygon points="1866.4,336 1851.6,343.3 1837.5,352.4 1853.4,346.8 1868.2,339.6"/>
<polygon points="1866.1,334.2 1851,338.7 1836.1,345.2 1852.2,342.5 1867.2,338"/>
<polygon points="1866,333.1 1845.1,337.3 1826.2,343.1 1845.9,341.2 1866.8,337.1"/>
<polygon points="1866.2,331.1 1847.8,331.3 1829.9,333.6 1847.8,335.3 1866.2,335.1"/>
<polygon points="1866.7,329.2 1848.1,326.1 1829.9,325 1847.5,330 1866,333.2"/>
<polygon points="1867.3,327.9 1852.4,323.3 1836.4,320.4 1851.2,327.1 1866.1,331.7"/>
<polygon points="1868.5,326.1 1848.8,315.4 1829.9,307.4 1846.8,318.9 1866.6,329.6"/>
<polygon points="1869.9,324.6 1854.3,311.8 1838.3,301.3 1851.7,314.9 1867.4,327.7"/>
<polygon points="1870.6,324.1 1857.7,311.6 1843.6,300.7 1854.9,314.4 1867.8,326.9"/>
<polygon points="1872.5,323 1861,306.3 1848.5,291.8 1857.7,308.6 1869.2,325.3"/>
<polygon points="1873.4,322.6 1865,307.8 1854.8,294 1861.5,309.8 1869.9,324.6"/>
<polygon points="1875.4,322.1 1869.2,304.1 1861.4,287.4 1865.4,305.4 1871.6,323.4"/>
<polygon points="1877.7,322 1875.4,303.2 1871.3,285.3 1871.5,303.7 1873.7,322.5"/>
<polygon points="1878.4,322.1 1877.2,300.8 1874.1,281.2 1873.2,301 1874.4,322.3"/>
<polygon points="1880.6,322.6 1883.4,303.7 1884.2,285.2 1879.5,303.1 1876.6,322"/>
<polygon points="1881.9,323.2 1887,305.4 1890.1,287.7 1883.2,304.3 1878.1,322.1"/>
<polygon points="1883.6,324.2 1892.8,305.4 1899.7,287 1889.3,303.6 1880,322.4"/>
<polygon points="1884.6,325.1 1895.2,308.9 1903.7,292.3 1891.9,306.7 1881.3,322.9"/>
<polygon points="1885.8,326.4 1899.7,311.4 1911.2,296 1896.8,308.7 1882.9,323.7"/>
<polygon points="1886.6,327.7 1900.1,316.8 1912.2,304.3 1897.6,313.7 1884.1,324.6"/>
<polygon points="1887.5,329.7 1905.1,320.3 1920.8,309.6 1903.2,316.7 1885.6,326.2"/>
<polygon points="1887.8,331 1905.2,324.3 1921.4,315.9 1903.8,320.5 1886.4,327.2"/>
<polygon points="1888,332.9 1905.1,329.6 1921.6,324.3 1904.3,325.7 1887.2,329"/>
</g>
<g fill="#1f9a4a">
<circle cx="1852.5" cy="708" r="12.5"/>
<polygon points="1860.1,709.2 1874.6,708.8 1888.1,707 1874.5,706 1860.1,706.4"/>
<polygon points="1859.8,710.6 1874.8,713 1888.9,713.8 1875.3,710.2 1860.2,707.8"/>
<polygon points="1859.6,711.1 1871.6,714 1883.8,715.5 1872.2,711.3 1860.2,708.4"/>
<polygon points="1859.1,712 1870.6,716.5 1882.5,719.5 1871.6,713.8 1860.1,709.4"/>
<polygon points="1858.1,713.3 1868.1,719.8 1878.9,725.1 1869.6,717.4 1859.6,711"/>
<polygon points="1857.5,713.9 1867,721.7 1877.3,728.3 1868.7,719.5 1859.3,711.7"/>
<polygon points="1856.8,714.4 1866.1,723.9 1876.1,732 1868.1,721.9 1858.8,712.4"/>
<polygon points="1855.5,715.1 1863.1,727 1871.5,737.4 1865.5,725.5 1857.8,713.6"/>
<polygon points="1855.2,715.2 1861.6,726 1869.1,735.9 1864,724.6 1857.6,713.8"/>
<polygon points="1854,715.6 1859.8,729.8 1866.4,742.3 1862.4,728.8 1856.6,714.5"/>
<polygon points="1852.4,715.7 1854.9,730.6 1858.6,744 1857.7,730.1 1855.1,715.3"/>
<polygon points="1851.3,715.6 1851.8,730.4 1853.6,744 1854.6,730.3 1854.1,715.6"/>
<polygon points="1850.2,715.4 1848.4,730.2 1848.1,744.2 1851.1,730.6 1853,715.7"/>
<polygon points="1849.8,715.2 1847.1,730.3 1846.1,744.3 1849.9,730.7 1852.6,715.7"/>
<polygon points="1848.6,714.7 1843.7,728.7 1840.5,742.1 1846.4,729.6 1851.3,715.6"/>
<polygon points="1847.7,714.1 1841.5,725.8 1836.8,737.8 1844,727.1 1850.2,715.4"/>
<polygon points="1847.1,713.5 1839.6,724.5 1833.5,735.8 1841.9,726 1849.4,715.1"/>
<polygon points="1846.4,712.7 1838.5,721.5 1831.7,731.3 1840.6,723.4 1848.5,714.6"/>
<polygon points="1845.6,711.4 1833.6,720.5 1823.4,729.9 1835.3,722.7 1847.3,713.7"/>
<polygon points="1845.1,710.3 1832.3,717.1 1821,724.7 1833.6,719.6 1846.4,712.8"/>
<polygon points="1845,709.7 1831.4,715.5 1819.3,722.2 1832.5,718.1 1846.1,712.3"/>
<polygon points="1844.8,709 1831.1,713.5 1818.7,719.1 1832,716.2 1845.7,711.7"/>
<polygon points="1844.8,707.7 1832.8,709.4 1821.1,712.5 1833.2,712.2 1845.2,710.5"/>
<polygon points="1844.9,706.9 1831.2,707.4 1818.1,709.2 1831.3,710.2 1845,709.7"/>
<polygon points="1845.1,705.8 1831.8,704.4 1818.8,704.4 1831.5,707.1 1844.8,708.6"/>
<polygon points="1845.6,704.5 1833,700.8 1820.4,698.6 1832.2,703.5 1844.8,707.2"/>
<polygon points="1845.9,704 1833.2,699.1 1820.6,695.8 1832.2,701.7 1844.9,706.6"/>
<polygon points="1846.6,703 1835.8,697 1824.5,692.2 1834.4,699.4 1845.2,705.5"/>
<polygon points="1847.3,702.3 1836.9,694.5 1826,688 1835.2,696.7 1845.6,704.5"/>
<polygon points="1848,701.7 1837.7,691.8 1827.1,683.4 1835.8,693.8 1846.1,703.7"/>
<polygon points="1849.6,700.8 1842.7,689.7 1834.8,679.7 1840.3,691.2 1847.3,702.3"/>
<polygon points="1850.4,700.6 1843.6,686.5 1836.1,674.3 1841.1,687.7 1847.9,701.8"/>
<polygon points="1850.9,700.4 1846.3,689.5 1840.3,679 1843.7,690.5 1848.3,701.5"/>
<polygon points="1852.6,700.3 1850.1,685.3 1846.3,671.7 1847.3,685.8 1849.8,700.7"/>
<polygon points="1853.5,700.3 1852.9,688.4 1850.9,676.4 1850.1,688.5 1850.7,700.5"/>
<polygon points="1854.3,700.5 1855.2,685.2 1854.6,671.1 1852.4,685 1851.5,700.3"/>
<polygon points="1855.7,701 1859.5,686.4 1861.6,672.6 1856.8,685.7 1853,700.3"/>
<polygon points="1856.1,701.2 1860.7,686.6 1863.6,672.8 1858.1,685.8 1853.5,700.3"/>
<polygon points="1857.1,701.8 1863.7,688.7 1868.5,675.9 1861.2,687.5 1854.6,700.6"/>
<polygon points="1857.8,702.4 1866.3,689 1872.9,676.2 1864,687.5 1855.4,700.8"/>
<polygon points="1858.8,703.5 1868.9,692.9 1877.3,682.1 1866.9,691 1856.7,701.5"/>
<polygon points="1859.1,704.1 1869.8,694.7 1878.9,684.9 1868,692.6 1857.3,701.9"/>
<polygon points="1859.7,705.3 1871.8,698.1 1882.5,690.2 1870.4,695.7 1858.3,702.9"/>
<polygon points="1860,706.1 1873.4,700.1 1885.2,693.1 1872.2,697.5 1858.8,703.6"/>
<polygon points="1860.2,707.2 1872.3,703.5 1883.8,698.6 1871.5,700.8 1859.4,704.5"/>
<polygon points="1860.2,708 1874.5,705.5 1887.5,701.7 1874,702.7 1859.7,705.3"/>
</g>
<g fill="#1f9a4a">
<circle cx="1879.7" cy="717.5" r="9"/>
<polygon points="1884.7,718.4 1894.3,717.9 1903.2,716.4 1894.2,715.7 1884.6,716.2"/>
<polygon points="1884.4,719.6 1894.5,721.7 1903.9,722.5 1894.9,719.5 1884.8,717.4"/>
<polygon points="1884,720.2 1891.8,723 1899.7,724.6 1892.5,720.9 1884.8,718.1"/>
<polygon points="1883.3,721.2 1891.2,726.4 1899.2,730.3 1892.4,724.5 1884.5,719.3"/>
<polygon points="1882.8,721.6 1889.9,727.9 1897.4,732.9 1891.4,726.2 1884.2,719.9"/>
<polygon points="1881.9,722.1 1887.9,729.9 1894.3,736.4 1889.6,728.5 1883.6,720.8"/>
<polygon points="1881.2,722.4 1885.1,729.5 1890,736 1887,728.4 1883.1,721.3"/>
<polygon points="1879.8,722.6 1881.7,730.9 1884.6,738.7 1883.8,730.4 1881.9,722.1"/>
<polygon points="1879.2,722.6 1880.4,732.4 1882.6,741.3 1882.6,732.2 1881.4,722.3"/>
<polygon points="1878.1,722.4 1877.2,730.2 1877.5,738.1 1879.4,730.4 1880.3,722.6"/>
<polygon points="1877.2,722 1874.6,731.1 1873.2,739.9 1876.7,731.7 1879.4,722.6"/>
<polygon points="1876.6,721.6 1872.8,730.2 1870.2,738.7 1874.8,731.1 1878.7,722.5"/>
<polygon points="1876,721 1871.2,728 1867.4,735.4 1873,729.2 1877.8,722.2"/>
<polygon points="1875.4,720.3 1869.7,726 1864.9,732.4 1871.3,727.5 1877,721.8"/>
<polygon points="1874.8,718.9 1867.2,723 1860.3,728 1868.2,725 1875.8,720.9"/>
<polygon points="1874.6,718 1866.3,720.7 1858.6,724.3 1866.9,722.8 1875.3,720.1"/>
<polygon points="1874.6,717.3 1864.6,719 1855.7,721.7 1865,721.2 1875,719.4"/>
<polygon points="1874.7,716.3 1867,716.1 1859.1,717 1866.9,718.3 1874.7,718.5"/>
<polygon points="1875,715.4 1865.8,713.6 1857,713 1865.4,715.8 1874.6,717.6"/>
<polygon points="1875.3,714.8 1868.1,712.3 1860.3,710.8 1867.3,714.4 1874.6,716.9"/>
<polygon points="1876.2,713.8 1868.8,708.7 1861.1,704.8 1867.5,710.5 1875,715.6"/>
<polygon points="1876.6,713.4 1869.9,707.7 1862.7,703.1 1868.5,709.4 1875.2,715.1"/>
<polygon points="1877.4,712.9 1871.2,705.2 1864.6,698.9 1869.5,706.6 1875.7,714.3"/>
<polygon points="1878.5,712.5 1875,705.6 1870.6,699.1 1873,706.6 1876.5,713.5"/>
<polygon points="1879.6,712.4 1877.8,704.9 1874.9,697.6 1875.6,705.4 1877.4,712.9"/>
<polygon points="1880.2,712.4 1879.3,705 1877.3,697.5 1877.1,705.2 1878,712.7"/>
<polygon points="1881.4,712.7 1882.3,705 1882.2,697.1 1880.2,704.7 1879.2,712.4"/>
<polygon points="1882.1,713 1884.3,705.6 1885.4,697.8 1882.2,705 1880,712.4"/>
<polygon points="1882.9,713.5 1887.1,705 1890.1,696.5 1885.2,704 1880.9,712.5"/>
<polygon points="1883.6,714.2 1888.9,707.2 1893.2,699.8 1887.2,705.8 1881.9,712.9"/>
<polygon points="1884.1,714.9 1890.6,709 1896.1,702.5 1889.1,707.4 1882.6,713.3"/>
<polygon points="1884.5,715.9 1891.1,711.9 1897.2,706.9 1890,710 1883.4,714"/>
<polygon points="1884.8,716.7 1892.3,713.7 1899.4,709.8 1891.5,711.7 1884,714.7"/>
<polygon points="1884.8,717.9 1895,716.4 1904.2,714 1894.7,714.3 1884.5,715.7"/>
</g>
<clipPath id="tc938"><rect x="1496" y="700" width="210" height="310"/></clipPath>
<g clip-path="url(#tc938)" fill="none"><path d="M1505.9,700V1010 M1520.7,700V1010 M1539.4,700V1010 M1554.2,700V1010 M1572.9,700V1010 M1587.7,700V1010 M1606.4,700V1010 M1621.2,700V1010 M1639.9,700V1010 M1654.7,700V1010 M1673.4,700V1010 M1688.2,700V1010" stroke="#b4b4b4" stroke-width="1.2"/><path d="M1487.2,732.5 A9.4,7.5 0 0,1 1505.9,732.5 M1487.2,757.5 A9.4,7.5 0 0,1 1505.9,757.5 M1487.2,782.5 A9.4,7.5 0 0,1 1505.9,782.5 M1487.2,807.5 A9.4,7.5 0 0,1 1505.9,807.5 M1487.2,832.5 A9.4,7.5 0 0,1 1505.9,832.5 M1487.2,857.5 A9.4,7.5 0 0,1 1505.9,857.5 M1487.2,882.5 A9.4,7.5 0 0,1 1505.9,882.5 M1487.2,907.5 A9.4,7.5 0 0,1 1505.9,907.5 M1487.2,932.5 A9.4,7.5 0 0,1 1505.9,932.5 M1487.2,957.5 A9.4,7.5 0 0,1 1505.9,957.5 M1487.2,982.5 A9.4,7.5 0 0,1 1505.9,982.5 M1487.2,1007.5 A9.4,7.5 0 0,1 1505.9,1007.5 M1505.9,719.1 A7.4,5.9 0 0,0 1520.7,719.1 M1505.9,744.1 A7.4,5.9 0 0,0 1520.7,744.1 M1505.9,769.1 A7.4,5.9 0 0,0 1520.7,769.1 M1505.9,794.1 A7.4,5.9 0 0,0 1520.7,794.1 M1505.9,819.1 A7.4,5.9 0 0,0 1520.7,819.1 M1505.9,844.1 A7.4,5.9 0 0,0 1520.7,844.1 M1505.9,869.1 A7.4,5.9 0 0,0 1520.7,869.1 M1505.9,894.1 A7.4,5.9 0 0,0 1520.7,894.1 M1505.9,919.1 A7.4,5.9 0 0,0 1520.7,919.1 M1505.9,944.1 A7.4,5.9 0 0,0 1520.7,944.1 M1505.9,969.1 A7.4,5.9 0 0,0 1520.7,969.1 M1505.9,994.1 A7.4,5.9 0 0,0 1520.7,994.1 M1520.7,732.5 A9.4,7.5 0 0,1 1539.4,732.5 M1520.7,757.5 A9.4,7.5 0 0,1 1539.4,757.5 M1520.7,782.5 A9.4,7.5 0 0,1 1539.4,782.5 M1520.7,807.5 A9.4,7.5 0 0,1 1539.4,807.5 M1520.7,832.5 A9.4,7.5 0 0,1 1539.4,832.5 M1520.7,857.5 A9.4,7.5 0 0,1 1539.4,857.5 M1520.7,882.5 A9.4,7.5 0 0,1 1539.4,882.5 M1520.7,907.5 A9.4,7.5 0 0,1 1539.4,907.5 M1520.7,932.5 A9.4,7.5 0 0,1 1539.4,932.5 M1520.7,957.5 A9.4,7.5 0 0,1 1539.4,957.5 M1520.7,982.5 A9.4,7.5 0 0,1 1539.4,982.5 M1520.7,1007.5 A9.4,7.5 0 0,1 1539.4,1007.5 M1539.4,719.1 A7.4,5.9 0 0,0 1554.2,719.1 M1539.4,744.1 A7.4,5.9 0 0,0 1554.2,744.1 M1539.4,769.1 A7.4,5.9 0 0,0 1554.2,769.1 M1539.4,794.1 A7.4,5.9 0 0,0 1554.2,794.1 M1539.4,819.1 A7.4,5.9 0 0,0 1554.2,819.1 M1539.4,844.1 A7.4,5.9 0 0,0 1554.2,844.1 M1539.4,869.1 A7.4,5.9 0 0,0 1554.2,869.1 M1539.4,894.1 A7.4,5.9 0 0,0 1554.2,894.1 M1539.4,919.1 A7.4,5.9 0 0,0 1554.2,919.1 M1539.4,944.1 A7.4,5.9 0 0,0 1554.2,944.1 M1539.4,969.1 A7.4,5.9 0 0,0 1554.2,969.1 M1539.4,994.1 A7.4,5.9 0 0,0 1554.2,994.1 M1554.2,732.5 A9.4,7.5 0 0,1 1572.9,732.5 M1554.2,757.5 A9.4,7.5 0 0,1 1572.9,757.5 M1554.2,782.5 A9.4,7.5 0 0,1 1572.9,782.5 M1554.2,807.5 A9.4,7.5 0 0,1 1572.9,807.5 M1554.2,832.5 A9.4,7.5 0 0,1 1572.9,832.5 M1554.2,857.5 A9.4,7.5 0 0,1 1572.9,857.5 M1554.2,882.5 A9.4,7.5 0 0,1 1572.9,882.5 M1554.2,907.5 A9.4,7.5 0 0,1 1572.9,907.5 M1554.2,932.5 A9.4,7.5 0 0,1 1572.9,932.5 M1554.2,957.5 A9.4,7.5 0 0,1 1572.9,957.5 M1554.2,982.5 A9.4,7.5 0 0,1 1572.9,982.5 M1554.2,1007.5 A9.4,7.5 0 0,1 1572.9,1007.5 M1572.9,719.1 A7.4,5.9 0 0,0 1587.7,719.1 M1572.9,744.1 A7.4,5.9 0 0,0 1587.7,744.1 M1572.9,769.1 A7.4,5.9 0 0,0 1587.7,769.1 M1572.9,794.1 A7.4,5.9 0 0,0 1587.7,794.1 M1572.9,819.1 A7.4,5.9 0 0,0 1587.7,819.1 M1572.9,844.1 A7.4,5.9 0 0,0 1587.7,844.1 M1572.9,869.1 A7.4,5.9 0 0,0 1587.7,869.1 M1572.9,894.1 A7.4,5.9 0 0,0 1587.7,894.1 M1572.9,919.1 A7.4,5.9 0 0,0 1587.7,919.1 M1572.9,944.1 A7.4,5.9 0 0,0 1587.7,944.1 M1572.9,969.1 A7.4,5.9 0 0,0 1587.7,969.1 M1572.9,994.1 A7.4,5.9 0 0,0 1587.7,994.1 M1587.7,732.5 A9.4,7.5 0 0,1 1606.4,732.5 M1587.7,757.5 A9.4,7.5 0 0,1 1606.4,757.5 M1587.7,782.5 A9.4,7.5 0 0,1 1606.4,782.5 M1587.7,807.5 A9.4,7.5 0 0,1 1606.4,807.5 M1587.7,832.5 A9.4,7.5 0 0,1 1606.4,832.5 M1587.7,857.5 A9.4,7.5 0 0,1 1606.4,857.5 M1587.7,882.5 A9.4,7.5 0 0,1 1606.4,882.5 M1587.7,907.5 A9.4,7.5 0 0,1 1606.4,907.5 M1587.7,932.5 A9.4,7.5 0 0,1 1606.4,932.5 M1587.7,957.5 A9.4,7.5 0 0,1 1606.4,957.5 M1587.7,982.5 A9.4,7.5 0 0,1 1606.4,982.5 M1587.7,1007.5 A9.4,7.5 0 0,1 1606.4,1007.5 M1606.4,719.1 A7.4,5.9 0 0,0 1621.2,719.1 M1606.4,744.1 A7.4,5.9 0 0,0 1621.2,744.1 M1606.4,769.1 A7.4,5.9 0 0,0 1621.2,769.1 M1606.4,794.1 A7.4,5.9 0 0,0 1621.2,794.1 M1606.4,819.1 A7.4,5.9 0 0,0 1621.2,819.1 M1606.4,844.1 A7.4,5.9 0 0,0 1621.2,844.1 M1606.4,869.1 A7.4,5.9 0 0,0 1621.2,869.1 M1606.4,894.1 A7.4,5.9 0 0,0 1621.2,894.1 M1606.4,919.1 A7.4,5.9 0 0,0 1621.2,919.1 M1606.4,944.1 A7.4,5.9 0 0,0 1621.2,944.1 M1606.4,969.1 A7.4,5.9 0 0,0 1621.2,969.1 M1606.4,994.1 A7.4,5.9 0 0,0 1621.2,994.1 M1621.2,732.5 A9.4,7.5 0 0,1 1639.9,732.5 M1621.2,757.5 A9.4,7.5 0 0,1 1639.9,757.5 M1621.2,782.5 A9.4,7.5 0 0,1 1639.9,782.5 M1621.2,807.5 A9.4,7.5 0 0,1 1639.9,807.5 M1621.2,832.5 A9.4,7.5 0 0,1 1639.9,832.5 M1621.2,857.5 A9.4,7.5 0 0,1 1639.9,857.5 M1621.2,882.5 A9.4,7.5 0 0,1 1639.9,882.5 M1621.2,907.5 A9.4,7.5 0 0,1 1639.9,907.5 M1621.2,932.5 A9.4,7.5 0 0,1 1639.9,932.5 M1621.2,957.5 A9.4,7.5 0 0,1 1639.9,957.5 M1621.2,982.5 A9.4,7.5 0 0,1 1639.9,982.5 M1621.2,1007.5 A9.4,7.5 0 0,1 1639.9,1007.5 M1639.9,719.1 A7.4,5.9 0 0,0 1654.7,719.1 M1639.9,744.1 A7.4,5.9 0 0,0 1654.7,744.1 M1639.9,769.1 A7.4,5.9 0 0,0 1654.7,769.1 M1639.9,794.1 A7.4,5.9 0 0,0 1654.7,794.1 M1639.9,819.1 A7.4,5.9 0 0,0 1654.7,819.1 M1639.9,844.1 A7.4,5.9 0 0,0 1654.7,844.1 M1639.9,869.1 A7.4,5.9 0 0,0 1654.7,869.1 M1639.9,894.1 A7.4,5.9 0 0,0 1654.7,894.1 M1639.9,919.1 A7.4,5.9 0 0,0 1654.7,919.1 M1639.9,944.1 A7.4,5.9 0 0,0 1654.7,944.1 M1639.9,969.1 A7.4,5.9 0 0,0 1654.7,969.1 M1639.9,994.1 A7.4,5.9 0 0,0 1654.7,994.1 M1654.7,732.5 A9.4,7.5 0 0,1 1673.4,732.5 M1654.7,757.5 A9.4,7.5 0 0,1 1673.4,757.5 M1654.7,782.5 A9.4,7.5 0 0,1 1673.4,782.5 M1654.7,807.5 A9.4,7.5 0 0,1 1673.4,807.5 M1654.7,832.5 A9.4,7.5 0 0,1 1673.4,832.5 M1654.7,857.5 A9.4,7.5 0 0,1 1673.4,857.5 M1654.7,882.5 A9.4,7.5 0 0,1 1673.4,882.5 M1654.7,907.5 A9.4,7.5 0 0,1 1673.4,907.5 M1654.7,932.5 A9.4,7.5 0 0,1 1673.4,932.5 M1654.7,957.5 A9.4,7.5 0 0,1 1673.4,957.5 M1654.7,982.5 A9.4,7.5 0 0,1 1673.4,982.5 M1654.7,1007.5 A9.4,7.5 0 0,1 1673.4,1007.5 M1673.4,719.1 A7.4,5.9 0 0,0 1688.2,719.1 M1673.4,744.1 A7.4,5.9 0 0,0 1688.2,744.1 M1673.4,769.1 A7.4,5.9 0 0,0 1688.2,769.1 M1673.4,794.1 A7.4,5.9 0 0,0 1688.2,794.1 M1673.4,819.1 A7.4,5.9 0 0,0 1688.2,819.1 M1673.4,844.1 A7.4,5.9 0 0,0 1688.2,844.1 M1673.4,869.1 A7.4,5.9 0 0,0 1688.2,869.1 M1673.4,894.1 A7.4,5.9 0 0,0 1688.2,894.1 M1673.4,919.1 A7.4,5.9 0 0,0 1688.2,919.1 M1673.4,944.1 A7.4,5.9 0 0,0 1688.2,944.1 M1673.4,969.1 A7.4,5.9 0 0,0 1688.2,969.1 M1673.4,994.1 A7.4,5.9 0 0,0 1688.2,994.1 M1688.2,732.5 A9.4,7.5 0 0,1 1706.9,732.5 M1688.2,757.5 A9.4,7.5 0 0,1 1706.9,757.5 M1688.2,782.5 A9.4,7.5 0 0,1 1706.9,782.5 M1688.2,807.5 A9.4,7.5 0 0,1 1706.9,807.5 M1688.2,832.5 A9.4,7.5 0 0,1 1706.9,832.5 M1688.2,857.5 A9.4,7.5 0 0,1 1706.9,857.5 M1688.2,882.5 A9.4,7.5 0 0,1 1706.9,882.5 M1688.2,907.5 A9.4,7.5 0 0,1 1706.9,907.5 M1688.2,932.5 A9.4,7.5 0 0,1 1706.9,932.5 M1688.2,957.5 A9.4,7.5 0 0,1 1706.9,957.5 M1688.2,982.5 A9.4,7.5 0 0,1 1706.9,982.5 M1688.2,1007.5 A9.4,7.5 0 0,1 1706.9,1007.5" stroke="#a6a6a6" stroke-width="1.9"/><path d="M1488.7,734.5 A7.9,7.5 0 0,1 1504.4,734.5 M1488.7,759.5 A7.9,7.5 0 0,1 1504.4,759.5 M1488.7,784.5 A7.9,7.5 0 0,1 1504.4,784.5 M1488.7,809.5 A7.9,7.5 0 0,1 1504.4,809.5 M1488.7,834.5 A7.9,7.5 0 0,1 1504.4,834.5 M1488.7,859.5 A7.9,7.5 0 0,1 1504.4,859.5 M1488.7,884.5 A7.9,7.5 0 0,1 1504.4,884.5 M1488.7,909.5 A7.9,7.5 0 0,1 1504.4,909.5 M1488.7,934.5 A7.9,7.5 0 0,1 1504.4,934.5 M1488.7,959.5 A7.9,7.5 0 0,1 1504.4,959.5 M1488.7,984.5 A7.9,7.5 0 0,1 1504.4,984.5 M1488.7,1009.5 A7.9,7.5 0 0,1 1504.4,1009.5 M1507.4,717.1 A5.9,5.9 0 0,0 1519.2,717.1 M1507.4,742.1 A5.9,5.9 0 0,0 1519.2,742.1 M1507.4,767.1 A5.9,5.9 0 0,0 1519.2,767.1 M1507.4,792.1 A5.9,5.9 0 0,0 1519.2,792.1 M1507.4,817.1 A5.9,5.9 0 0,0 1519.2,817.1 M1507.4,842.1 A5.9,5.9 0 0,0 1519.2,842.1 M1507.4,867.1 A5.9,5.9 0 0,0 1519.2,867.1 M1507.4,892.1 A5.9,5.9 0 0,0 1519.2,892.1 M1507.4,917.1 A5.9,5.9 0 0,0 1519.2,917.1 M1507.4,942.1 A5.9,5.9 0 0,0 1519.2,942.1 M1507.4,967.1 A5.9,5.9 0 0,0 1519.2,967.1 M1507.4,992.1 A5.9,5.9 0 0,0 1519.2,992.1 M1522.2,734.5 A7.9,7.5 0 0,1 1537.9,734.5 M1522.2,759.5 A7.9,7.5 0 0,1 1537.9,759.5 M1522.2,784.5 A7.9,7.5 0 0,1 1537.9,784.5 M1522.2,809.5 A7.9,7.5 0 0,1 1537.9,809.5 M1522.2,834.5 A7.9,7.5 0 0,1 1537.9,834.5 M1522.2,859.5 A7.9,7.5 0 0,1 1537.9,859.5 M1522.2,884.5 A7.9,7.5 0 0,1 1537.9,884.5 M1522.2,909.5 A7.9,7.5 0 0,1 1537.9,909.5 M1522.2,934.5 A7.9,7.5 0 0,1 1537.9,934.5 M1522.2,959.5 A7.9,7.5 0 0,1 1537.9,959.5 M1522.2,984.5 A7.9,7.5 0 0,1 1537.9,984.5 M1522.2,1009.5 A7.9,7.5 0 0,1 1537.9,1009.5 M1540.9,717.1 A5.9,5.9 0 0,0 1552.7,717.1 M1540.9,742.1 A5.9,5.9 0 0,0 1552.7,742.1 M1540.9,767.1 A5.9,5.9 0 0,0 1552.7,767.1 M1540.9,792.1 A5.9,5.9 0 0,0 1552.7,792.1 M1540.9,817.1 A5.9,5.9 0 0,0 1552.7,817.1 M1540.9,842.1 A5.9,5.9 0 0,0 1552.7,842.1 M1540.9,867.1 A5.9,5.9 0 0,0 1552.7,867.1 M1540.9,892.1 A5.9,5.9 0 0,0 1552.7,892.1 M1540.9,917.1 A5.9,5.9 0 0,0 1552.7,917.1 M1540.9,942.1 A5.9,5.9 0 0,0 1552.7,942.1 M1540.9,967.1 A5.9,5.9 0 0,0 1552.7,967.1 M1540.9,992.1 A5.9,5.9 0 0,0 1552.7,992.1 M1555.7,734.5 A7.9,7.5 0 0,1 1571.4,734.5 M1555.7,759.5 A7.9,7.5 0 0,1 1571.4,759.5 M1555.7,784.5 A7.9,7.5 0 0,1 1571.4,784.5 M1555.7,809.5 A7.9,7.5 0 0,1 1571.4,809.5 M1555.7,834.5 A7.9,7.5 0 0,1 1571.4,834.5 M1555.7,859.5 A7.9,7.5 0 0,1 1571.4,859.5 M1555.7,884.5 A7.9,7.5 0 0,1 1571.4,884.5 M1555.7,909.5 A7.9,7.5 0 0,1 1571.4,909.5 M1555.7,934.5 A7.9,7.5 0 0,1 1571.4,934.5 M1555.7,959.5 A7.9,7.5 0 0,1 1571.4,959.5 M1555.7,984.5 A7.9,7.5 0 0,1 1571.4,984.5 M1555.7,1009.5 A7.9,7.5 0 0,1 1571.4,1009.5 M1574.4,717.1 A5.9,5.9 0 0,0 1586.2,717.1 M1574.4,742.1 A5.9,5.9 0 0,0 1586.2,742.1 M1574.4,767.1 A5.9,5.9 0 0,0 1586.2,767.1 M1574.4,792.1 A5.9,5.9 0 0,0 1586.2,792.1 M1574.4,817.1 A5.9,5.9 0 0,0 1586.2,817.1 M1574.4,842.1 A5.9,5.9 0 0,0 1586.2,842.1 M1574.4,867.1 A5.9,5.9 0 0,0 1586.2,867.1 M1574.4,892.1 A5.9,5.9 0 0,0 1586.2,892.1 M1574.4,917.1 A5.9,5.9 0 0,0 1586.2,917.1 M1574.4,942.1 A5.9,5.9 0 0,0 1586.2,942.1 M1574.4,967.1 A5.9,5.9 0 0,0 1586.2,967.1 M1574.4,992.1 A5.9,5.9 0 0,0 1586.2,992.1 M1589.2,734.5 A7.9,7.5 0 0,1 1604.9,734.5 M1589.2,759.5 A7.9,7.5 0 0,1 1604.9,759.5 M1589.2,784.5 A7.9,7.5 0 0,1 1604.9,784.5 M1589.2,809.5 A7.9,7.5 0 0,1 1604.9,809.5 M1589.2,834.5 A7.9,7.5 0 0,1 1604.9,834.5 M1589.2,859.5 A7.9,7.5 0 0,1 1604.9,859.5 M1589.2,884.5 A7.9,7.5 0 0,1 1604.9,884.5 M1589.2,909.5 A7.9,7.5 0 0,1 1604.9,909.5 M1589.2,934.5 A7.9,7.5 0 0,1 1604.9,934.5 M1589.2,959.5 A7.9,7.5 0 0,1 1604.9,959.5 M1589.2,984.5 A7.9,7.5 0 0,1 1604.9,984.5 M1589.2,1009.5 A7.9,7.5 0 0,1 1604.9,1009.5 M1607.9,717.1 A5.9,5.9 0 0,0 1619.7,717.1 M1607.9,742.1 A5.9,5.9 0 0,0 1619.7,742.1 M1607.9,767.1 A5.9,5.9 0 0,0 1619.7,767.1 M1607.9,792.1 A5.9,5.9 0 0,0 1619.7,792.1 M1607.9,817.1 A5.9,5.9 0 0,0 1619.7,817.1 M1607.9,842.1 A5.9,5.9 0 0,0 1619.7,842.1 M1607.9,867.1 A5.9,5.9 0 0,0 1619.7,867.1 M1607.9,892.1 A5.9,5.9 0 0,0 1619.7,892.1 M1607.9,917.1 A5.9,5.9 0 0,0 1619.7,917.1 M1607.9,942.1 A5.9,5.9 0 0,0 1619.7,942.1 M1607.9,967.1 A5.9,5.9 0 0,0 1619.7,967.1 M1607.9,992.1 A5.9,5.9 0 0,0 1619.7,992.1 M1622.7,734.5 A7.9,7.5 0 0,1 1638.4,734.5 M1622.7,759.5 A7.9,7.5 0 0,1 1638.4,759.5 M1622.7,784.5 A7.9,7.5 0 0,1 1638.4,784.5 M1622.7,809.5 A7.9,7.5 0 0,1 1638.4,809.5 M1622.7,834.5 A7.9,7.5 0 0,1 1638.4,834.5 M1622.7,859.5 A7.9,7.5 0 0,1 1638.4,859.5 M1622.7,884.5 A7.9,7.5 0 0,1 1638.4,884.5 M1622.7,909.5 A7.9,7.5 0 0,1 1638.4,909.5 M1622.7,934.5 A7.9,7.5 0 0,1 1638.4,934.5 M1622.7,959.5 A7.9,7.5 0 0,1 1638.4,959.5 M1622.7,984.5 A7.9,7.5 0 0,1 1638.4,984.5 M1622.7,1009.5 A7.9,7.5 0 0,1 1638.4,1009.5 M1641.4,717.1 A5.9,5.9 0 0,0 1653.2,717.1 M1641.4,742.1 A5.9,5.9 0 0,0 1653.2,742.1 M1641.4,767.1 A5.9,5.9 0 0,0 1653.2,767.1 M1641.4,792.1 A5.9,5.9 0 0,0 1653.2,792.1 M1641.4,817.1 A5.9,5.9 0 0,0 1653.2,817.1 M1641.4,842.1 A5.9,5.9 0 0,0 1653.2,842.1 M1641.4,867.1 A5.9,5.9 0 0,0 1653.2,867.1 M1641.4,892.1 A5.9,5.9 0 0,0 1653.2,892.1 M1641.4,917.1 A5.9,5.9 0 0,0 1653.2,917.1 M1641.4,942.1 A5.9,5.9 0 0,0 1653.2,942.1 M1641.4,967.1 A5.9,5.9 0 0,0 1653.2,967.1 M1641.4,992.1 A5.9,5.9 0 0,0 1653.2,992.1 M1656.2,734.5 A7.9,7.5 0 0,1 1671.9,734.5 M1656.2,759.5 A7.9,7.5 0 0,1 1671.9,759.5 M1656.2,784.5 A7.9,7.5 0 0,1 1671.9,784.5 M1656.2,809.5 A7.9,7.5 0 0,1 1671.9,809.5 M1656.2,834.5 A7.9,7.5 0 0,1 1671.9,834.5 M1656.2,859.5 A7.9,7.5 0 0,1 1671.9,859.5 M1656.2,884.5 A7.9,7.5 0 0,1 1671.9,884.5 M1656.2,909.5 A7.9,7.5 0 0,1 1671.9,909.5 M1656.2,934.5 A7.9,7.5 0 0,1 1671.9,934.5 M1656.2,959.5 A7.9,7.5 0 0,1 1671.9,959.5 M1656.2,984.5 A7.9,7.5 0 0,1 1671.9,984.5 M1656.2,1009.5 A7.9,7.5 0 0,1 1671.9,1009.5 M1674.9,717.1 A5.9,5.9 0 0,0 1686.7,717.1 M1674.9,742.1 A5.9,5.9 0 0,0 1686.7,742.1 M1674.9,767.1 A5.9,5.9 0 0,0 1686.7,767.1 M1674.9,792.1 A5.9,5.9 0 0,0 1686.7,792.1 M1674.9,817.1 A5.9,5.9 0 0,0 1686.7,817.1 M1674.9,842.1 A5.9,5.9 0 0,0 1686.7,842.1 M1674.9,867.1 A5.9,5.9 0 0,0 1686.7,867.1 M1674.9,892.1 A5.9,5.9 0 0,0 1686.7,892.1 M1674.9,917.1 A5.9,5.9 0 0,0 1686.7,917.1 M1674.9,942.1 A5.9,5.9 0 0,0 1686.7,942.1 M1674.9,967.1 A5.9,5.9 0 0,0 1686.7,967.1 M1674.9,992.1 A5.9,5.9 0 0,0 1686.7,992.1 M1689.7,734.5 A7.9,7.5 0 0,1 1705.4,734.5 M1689.7,759.5 A7.9,7.5 0 0,1 1705.4,759.5 M1689.7,784.5 A7.9,7.5 0 0,1 1705.4,784.5 M1689.7,809.5 A7.9,7.5 0 0,1 1705.4,809.5 M1689.7,834.5 A7.9,7.5 0 0,1 1705.4,834.5 M1689.7,859.5 A7.9,7.5 0 0,1 1705.4,859.5 M1689.7,884.5 A7.9,7.5 0 0,1 1705.4,884.5 M1689.7,909.5 A7.9,7.5 0 0,1 1705.4,909.5 M1689.7,934.5 A7.9,7.5 0 0,1 1705.4,934.5 M1689.7,959.5 A7.9,7.5 0 0,1 1705.4,959.5 M1689.7,984.5 A7.9,7.5 0 0,1 1705.4,984.5 M1689.7,1009.5 A7.9,7.5 0 0,1 1705.4,1009.5" stroke="#bcbcbc" stroke-width="1.1"/></g>
<rect x="1495.3" y="699.3" width="210.9" height="311.2" fill="none" stroke="#1c1c1c" stroke-width="2"/>
<line x1="1495.3" y1="903.3" x2="1706.2" y2="903.3" stroke="#1c1c1c" stroke-width="2"/>
<clipPath id="tc942"><rect x="1707" y="766" width="213" height="65"/></clipPath>
<g clip-path="url(#tc942)" fill="none"><path d="M1717.7,766V831 M1736.4,766V831 M1751.2,766V831 M1769.9,766V831 M1784.7,766V831 M1803.4,766V831 M1818.2,766V831 M1836.9,766V831 M1851.7,766V831 M1870.4,766V831 M1885.2,766V831 M1903.9,766V831 M1918.7,766V831" stroke="#b4b4b4" stroke-width="1.2"/><path d="M1702.9,766.4 A7.4,5.9 0 0,0 1717.7,766.4 M1702.9,791.4 A7.4,5.9 0 0,0 1717.7,791.4 M1702.9,816.4 A7.4,5.9 0 0,0 1717.7,816.4 M1717.7,779.8 A9.4,7.5 0 0,1 1736.4,779.8 M1717.7,804.8 A9.4,7.5 0 0,1 1736.4,804.8 M1717.7,829.8 A9.4,7.5 0 0,1 1736.4,829.8 M1736.4,766.4 A7.4,5.9 0 0,0 1751.2,766.4 M1736.4,791.4 A7.4,5.9 0 0,0 1751.2,791.4 M1736.4,816.4 A7.4,5.9 0 0,0 1751.2,816.4 M1751.2,779.8 A9.4,7.5 0 0,1 1769.9,779.8 M1751.2,804.8 A9.4,7.5 0 0,1 1769.9,804.8 M1751.2,829.8 A9.4,7.5 0 0,1 1769.9,829.8 M1769.9,766.4 A7.4,5.9 0 0,0 1784.7,766.4 M1769.9,791.4 A7.4,5.9 0 0,0 1784.7,791.4 M1769.9,816.4 A7.4,5.9 0 0,0 1784.7,816.4 M1784.7,779.8 A9.4,7.5 0 0,1 1803.4,779.8 M1784.7,804.8 A9.4,7.5 0 0,1 1803.4,804.8 M1784.7,829.8 A9.4,7.5 0 0,1 1803.4,829.8 M1803.4,766.4 A7.4,5.9 0 0,0 1818.2,766.4 M1803.4,791.4 A7.4,5.9 0 0,0 1818.2,791.4 M1803.4,816.4 A7.4,5.9 0 0,0 1818.2,816.4 M1818.2,779.8 A9.4,7.5 0 0,1 1836.9,779.8 M1818.2,804.8 A9.4,7.5 0 0,1 1836.9,804.8 M1818.2,829.8 A9.4,7.5 0 0,1 1836.9,829.8 M1836.9,766.4 A7.4,5.9 0 0,0 1851.7,766.4 M1836.9,791.4 A7.4,5.9 0 0,0 1851.7,791.4 M1836.9,816.4 A7.4,5.9 0 0,0 1851.7,816.4 M1851.7,779.8 A9.4,7.5 0 0,1 1870.4,779.8 M1851.7,804.8 A9.4,7.5 0 0,1 1870.4,804.8 M1851.7,829.8 A9.4,7.5 0 0,1 1870.4,829.8 M1870.4,766.4 A7.4,5.9 0 0,0 1885.2,766.4 M1870.4,791.4 A7.4,5.9 0 0,0 1885.2,791.4 M1870.4,816.4 A7.4,5.9 0 0,0 1885.2,816.4 M1885.2,779.8 A9.4,7.5 0 0,1 1903.9,779.8 M1885.2,804.8 A9.4,7.5 0 0,1 1903.9,804.8 M1885.2,829.8 A9.4,7.5 0 0,1 1903.9,829.8 M1903.9,766.4 A7.4,5.9 0 0,0 1918.7,766.4 M1903.9,791.4 A7.4,5.9 0 0,0 1918.7,791.4 M1903.9,816.4 A7.4,5.9 0 0,0 1918.7,816.4 M1918.7,779.8 A9.4,7.5 0 0,1 1937.4,779.8 M1918.7,804.8 A9.4,7.5 0 0,1 1937.4,804.8 M1918.7,829.8 A9.4,7.5 0 0,1 1937.4,829.8" stroke="#a6a6a6" stroke-width="1.9"/><path d="M1704.4,764.4 A5.9,5.9 0 0,0 1716.2,764.4 M1704.4,789.4 A5.9,5.9 0 0,0 1716.2,789.4 M1704.4,814.4 A5.9,5.9 0 0,0 1716.2,814.4 M1719.2,781.8 A7.9,7.5 0 0,1 1734.9,781.8 M1719.2,806.8 A7.9,7.5 0 0,1 1734.9,806.8 M1719.2,831.8 A7.9,7.5 0 0,1 1734.9,831.8 M1737.9,764.4 A5.9,5.9 0 0,0 1749.7,764.4 M1737.9,789.4 A5.9,5.9 0 0,0 1749.7,789.4 M1737.9,814.4 A5.9,5.9 0 0,0 1749.7,814.4 M1752.7,781.8 A7.9,7.5 0 0,1 1768.4,781.8 M1752.7,806.8 A7.9,7.5 0 0,1 1768.4,806.8 M1752.7,831.8 A7.9,7.5 0 0,1 1768.4,831.8 M1771.4,764.4 A5.9,5.9 0 0,0 1783.2,764.4 M1771.4,789.4 A5.9,5.9 0 0,0 1783.2,789.4 M1771.4,814.4 A5.9,5.9 0 0,0 1783.2,814.4 M1786.2,781.8 A7.9,7.5 0 0,1 1801.9,781.8 M1786.2,806.8 A7.9,7.5 0 0,1 1801.9,806.8 M1786.2,831.8 A7.9,7.5 0 0,1 1801.9,831.8 M1804.9,764.4 A5.9,5.9 0 0,0 1816.7,764.4 M1804.9,789.4 A5.9,5.9 0 0,0 1816.7,789.4 M1804.9,814.4 A5.9,5.9 0 0,0 1816.7,814.4 M1819.7,781.8 A7.9,7.5 0 0,1 1835.4,781.8 M1819.7,806.8 A7.9,7.5 0 0,1 1835.4,806.8 M1819.7,831.8 A7.9,7.5 0 0,1 1835.4,831.8 M1838.4,764.4 A5.9,5.9 0 0,0 1850.2,764.4 M1838.4,789.4 A5.9,5.9 0 0,0 1850.2,789.4 M1838.4,814.4 A5.9,5.9 0 0,0 1850.2,814.4 M1853.2,781.8 A7.9,7.5 0 0,1 1868.9,781.8 M1853.2,806.8 A7.9,7.5 0 0,1 1868.9,806.8 M1853.2,831.8 A7.9,7.5 0 0,1 1868.9,831.8 M1871.9,764.4 A5.9,5.9 0 0,0 1883.7,764.4 M1871.9,789.4 A5.9,5.9 0 0,0 1883.7,789.4 M1871.9,814.4 A5.9,5.9 0 0,0 1883.7,814.4 M1886.7,781.8 A7.9,7.5 0 0,1 1902.4,781.8 M1886.7,806.8 A7.9,7.5 0 0,1 1902.4,806.8 M1886.7,831.8 A7.9,7.5 0 0,1 1902.4,831.8 M1905.4,764.4 A5.9,5.9 0 0,0 1917.2,764.4 M1905.4,789.4 A5.9,5.9 0 0,0 1917.2,789.4 M1905.4,814.4 A5.9,5.9 0 0,0 1917.2,814.4 M1920.2,781.8 A7.9,7.5 0 0,1 1935.9,781.8 M1920.2,806.8 A7.9,7.5 0 0,1 1935.9,806.8 M1920.2,831.8 A7.9,7.5 0 0,1 1935.9,831.8" stroke="#bcbcbc" stroke-width="1.1"/></g>
<line x1="1706.2" y1="765.1" x2="1903.5" y2="765.1" stroke="#1c1c1c" stroke-width="2"/>
<line x1="1903.5" y1="765.1" x2="1920" y2="783" stroke="#1c1c1c" stroke-width="2"/>
<line x1="1706.2" y1="831.9" x2="1920" y2="831.9" stroke="#1c1c1c" stroke-width="2"/>
<line x1="1706.2" y1="765.1" x2="1706.2" y2="831.9" stroke="#1c1c1c" stroke-width="2"/>
<polyline points="1679.2,1010.5 1679.2,1122.3 1920,1122.3" fill="none" stroke="#1c1c1c" stroke-width="2" stroke-linejoin="miter"/>
<polyline points="1701,1010.5 1701,1100.9 1920,1100.9" fill="none" stroke="#1c1c1c" stroke-width="2" stroke-linejoin="miter"/>
<g transform="translate(1753.7,961.3) rotate(30)">
<path d="M29.6,-31.2 A43,43 0 1,0 29.6,31.2" fill="none" stroke="#1c1c1c" stroke-width="2.4"/>
<path d="M27,-28.5 A39.3,39.3 0 1,0 27,28.5" fill="none" stroke="#444" stroke-width="1.1"/>
<path d="M29.6,-31.2 Q36,0 29.6,31.2" fill="none" stroke="#1c1c1c" stroke-width="1.8"/>
<path d="M29.6,-31.2 L31.5,-14" fill="none" stroke="#222" stroke-width="4"/>
<path d="M31.5,14 L29.6,31.2" fill="none" stroke="#222" stroke-width="4"/>
<circle cx="7" cy="0" r="27" fill="none" stroke="#1c1c1c" stroke-width="1.5"/>
<line x1="0" y1="-27" x2="2" y2="-39.5" stroke="#333" stroke-width="1.1"/>
<line x1="0" y1="27" x2="2" y2="39.5" stroke="#333" stroke-width="1.1"/>
<line x1="26" y1="-22" x2="29" y2="-24" stroke="#333" stroke-width="1"/>
<line x1="26" y1="22" x2="29" y2="24" stroke="#333" stroke-width="1"/>
</g>
<g transform="translate(1776.6,1054.5) rotate(-47)">
<path d="M29.6,-31.2 A43,43 0 1,0 29.6,31.2" fill="none" stroke="#1c1c1c" stroke-width="2.4"/>
<path d="M27,-28.5 A39.3,39.3 0 1,0 27,28.5" fill="none" stroke="#444" stroke-width="1.1"/>
<path d="M29.6,-31.2 Q36,0 29.6,31.2" fill="none" stroke="#1c1c1c" stroke-width="1.8"/>
<path d="M29.6,-31.2 L31.5,-14" fill="none" stroke="#222" stroke-width="4"/>
<path d="M31.5,14 L29.6,31.2" fill="none" stroke="#222" stroke-width="4"/>
<circle cx="7" cy="0" r="27" fill="none" stroke="#1c1c1c" stroke-width="1.5"/>
<line x1="0" y1="-27" x2="2" y2="-39.5" stroke="#333" stroke-width="1.1"/>
<line x1="0" y1="27" x2="2" y2="39.5" stroke="#333" stroke-width="1.1"/>
<line x1="26" y1="-22" x2="29" y2="-24" stroke="#333" stroke-width="1"/>
<line x1="26" y1="22" x2="29" y2="24" stroke="#333" stroke-width="1"/>
</g>
<circle cx="1832.1" cy="991.9" r="32.3" fill="none" stroke="#1c1c1c" stroke-width="1.5"/>
<g>
<ellipse cx="1892.8" cy="1059.1" rx="8.8" ry="3.2" transform="rotate(187.7 1892.8 1059.1)" fill="#2c7a3c" stroke="#173f20" stroke-width="0.9"/>
<ellipse cx="1897.4" cy="1069.9" rx="10" ry="3.6" transform="rotate(112.3 1897.4 1069.9)" fill="#2c7a3c" stroke="#173f20" stroke-width="0.9"/>
<ellipse cx="1905" cy="1048.8" rx="10.9" ry="3.9" transform="rotate(288 1905 1048.8)" fill="#2f8a44" stroke="#173f20" stroke-width="0.9"/>
<ellipse cx="1911.2" cy="1063.8" rx="8.8" ry="3.2" transform="rotate(56.9 1911.2 1063.8)" fill="#2c7a3c" stroke="#173f20" stroke-width="0.9"/>
<ellipse cx="1908.1" cy="1042.3" rx="10.4" ry="3.7" transform="rotate(255.9 1908.1 1042.3)" fill="#237a3a" stroke="#173f20" stroke-width="0.9"/>
<ellipse cx="1908.5" cy="1064.6" rx="10.5" ry="3.8" transform="rotate(96.1 1908.5 1064.6)" fill="#237a3a" stroke="#173f20" stroke-width="0.9"/>
<ellipse cx="1918.1" cy="1048.5" rx="9.4" ry="3.4" transform="rotate(301.9 1918.1 1048.5)" fill="#2c7a3c" stroke="#173f20" stroke-width="0.9"/>
<ellipse cx="1908.7" cy="1053.4" rx="9.4" ry="3.4" transform="rotate(316.1 1908.7 1053.4)" fill="#2c7a3c" stroke="#173f20" stroke-width="0.9"/>
<ellipse cx="1908.1" cy="1080.6" rx="10.6" ry="3.8" transform="rotate(111.8 1908.1 1080.6)" fill="#2c7a3c" stroke="#173f20" stroke-width="0.9"/>
<ellipse cx="1920.4" cy="1069.7" rx="10.7" ry="3.9" transform="rotate(26.6 1920.4 1069.7)" fill="#2c7a3c" stroke="#173f20" stroke-width="0.9"/>
<ellipse cx="1910.8" cy="1052.1" rx="10.8" ry="3.9" transform="rotate(321.3 1910.8 1052.1)" fill="#2f8a44" stroke="#173f20" stroke-width="0.9"/>
<ellipse cx="1898.1" cy="1054.1" rx="8.7" ry="3.1" transform="rotate(175.9 1898.1 1054.1)" fill="#2c7a3c" stroke="#173f20" stroke-width="0.9"/>
<ellipse cx="1904" cy="1049.8" rx="10.8" ry="3.9" transform="rotate(264.9 1904 1049.8)" fill="#2c7a3c" stroke="#173f20" stroke-width="0.9"/>
<ellipse cx="1924" cy="1062.4" rx="10" ry="3.6" transform="rotate(-0.6 1924 1062.4)" fill="#237a3a" stroke="#173f20" stroke-width="0.9"/>
<ellipse cx="1904.4" cy="1036.3" rx="8.6" ry="3.1" transform="rotate(286.4 1904.4 1036.3)" fill="#2f8a44" stroke="#173f20" stroke-width="0.9"/>
<ellipse cx="1914.9" cy="1053.2" rx="10" ry="3.6" transform="rotate(316.1 1914.9 1053.2)" fill="#237a3a" stroke="#173f20" stroke-width="0.9"/>
<ellipse cx="1916.2" cy="1041.1" rx="9.9" ry="3.6" transform="rotate(315.2 1916.2 1041.1)" fill="#237a3a" stroke="#173f20" stroke-width="0.9"/>
<ellipse cx="1928.5" cy="1074.6" rx="9.4" ry="3.4" transform="rotate(23 1928.5 1074.6)" fill="#2a6f38" stroke="#173f20" stroke-width="0.9"/>
<ellipse cx="1925.6" cy="1054.3" rx="8.5" ry="3.1" transform="rotate(372.1 1925.6 1054.3)" fill="#237a3a" stroke="#173f20" stroke-width="0.9"/>
<ellipse cx="1911.5" cy="1056" rx="9.1" ry="3.3" transform="rotate(-13 1911.5 1056)" fill="#2c7a3c" stroke="#173f20" stroke-width="0.9"/>
<ellipse cx="1902.2" cy="1066.1" rx="9.8" ry="3.5" transform="rotate(85.1 1902.2 1066.1)" fill="#2f8a44" stroke="#173f20" stroke-width="0.9"/>
<ellipse cx="1911.2" cy="1029.6" rx="9.7" ry="3.5" transform="rotate(293.1 1911.2 1029.6)" fill="#2a6f38" stroke="#173f20" stroke-width="0.9"/>
<ellipse cx="1902.2" cy="1054.3" rx="10.1" ry="3.6" transform="rotate(180.6 1902.2 1054.3)" fill="#2f8a44" stroke="#173f20" stroke-width="0.9"/>
<ellipse cx="1874.7" cy="1054.1" rx="9.9" ry="3.6" transform="rotate(162.9 1874.7 1054.1)" fill="#237a3a" stroke="#173f20" stroke-width="0.9"/>
<ellipse cx="1919.3" cy="1080.6" rx="9.1" ry="3.3" transform="rotate(35.8 1919.3 1080.6)" fill="#2a6f38" stroke="#173f20" stroke-width="0.9"/>
<ellipse cx="1905.4" cy="1063.1" rx="8.8" ry="3.2" transform="rotate(74.5 1905.4 1063.1)" fill="#2c7a3c" stroke="#173f20" stroke-width="0.9"/>
<ellipse cx="1913.9" cy="1059.2" rx="9.5" ry="3.4" transform="rotate(28.3 1913.9 1059.2)" fill="#237a3a" stroke="#173f20" stroke-width="0.9"/>
<ellipse cx="1902.3" cy="1072.4" rx="9.2" ry="3.3" transform="rotate(129.1 1902.3 1072.4)" fill="#237a3a" stroke="#173f20" stroke-width="0.9"/>
<ellipse cx="1904.6" cy="1052.1" rx="9.6" ry="3.5" transform="rotate(262.2 1904.6 1052.1)" fill="#2f8a44" stroke="#173f20" stroke-width="0.9"/>
<ellipse cx="1883.3" cy="1041.9" rx="10.2" ry="3.7" transform="rotate(198.8 1883.3 1041.9)" fill="#2f8a44" stroke="#173f20" stroke-width="0.9"/>
<ellipse cx="1888.3" cy="1080.7" rx="9.2" ry="3.3" transform="rotate(104.3 1888.3 1080.7)" fill="#2c7a3c" stroke="#173f20" stroke-width="0.9"/>
<ellipse cx="1919.8" cy="1078.4" rx="10.6" ry="3.8" transform="rotate(41.4 1919.8 1078.4)" fill="#2f8a44" stroke="#173f20" stroke-width="0.9"/>
<ellipse cx="1887.5" cy="1061.2" rx="9.5" ry="3.4" transform="rotate(145.7 1887.5 1061.2)" fill="#2f8a44" stroke="#173f20" stroke-width="0.9"/>
<ellipse cx="1897.5" cy="1050.4" rx="8.7" ry="3.1" transform="rotate(222.1 1897.5 1050.4)" fill="#2f8a44" stroke="#173f20" stroke-width="0.9"/>
<ellipse cx="1888.5" cy="1051" rx="9.8" ry="3.5" transform="rotate(219.4 1888.5 1051)" fill="#2c7a3c" stroke="#173f20" stroke-width="0.9"/>
<ellipse cx="1920.1" cy="1042.3" rx="10.9" ry="3.9" transform="rotate(290.9 1920.1 1042.3)" fill="#2a6f38" stroke="#173f20" stroke-width="0.9"/>
<ellipse cx="1905" cy="1050.8" rx="10.2" ry="3.7" transform="rotate(256.8 1905 1050.8)" fill="#2f8a44" stroke="#173f20" stroke-width="0.9"/>
<ellipse cx="1924.7" cy="1040.3" rx="10.2" ry="3.7" transform="rotate(293 1924.7 1040.3)" fill="#2a6f38" stroke="#173f20" stroke-width="0.9"/>
<ellipse cx="1912.6" cy="1049.7" rx="10.6" ry="3.8" transform="rotate(329.5 1912.6 1049.7)" fill="#2f8a44" stroke="#173f20" stroke-width="0.9"/>
<ellipse cx="1908.3" cy="1053.7" rx="10" ry="3.6" transform="rotate(321.8 1908.3 1053.7)" fill="#2f8a44" stroke="#173f20" stroke-width="0.9"/>
</g>
<text x="1556.8" y="225.7" font-size="18.6" textLength="88.7" lengthAdjust="spacingAndGlyphs" fill="#1e1e1e" stroke="#1e1e1e" stroke-width="0.45">ESCALERA</text>
<text x="1558.2" y="246.6" font-size="18.6" textLength="11.8" lengthAdjust="spacingAndGlyphs" fill="#1e1e1e" stroke="#1e1e1e" stroke-width="0.45">Y</text>
<text x="1580" y="246.6" font-size="18.6" textLength="70.6" lengthAdjust="spacingAndGlyphs" fill="#1e1e1e" stroke="#1e1e1e" stroke-width="0.45">ACCESO</text>
<text x="1571" y="286.6" font-size="18.6" textLength="43.3" lengthAdjust="spacingAndGlyphs" fill="#1e1e1e" stroke="#1e1e1e" stroke-width="0.45">5.7m</text>
<text x="1614.8" y="279.2" font-size="11.9" textLength="7.4" lengthAdjust="spacingAndGlyphs" fill="#1e1e1e" stroke="#1e1e1e" stroke-width="0.35">2</text>
<text x="1700.6" y="413" font-size="18.6" textLength="87.3" lengthAdjust="spacingAndGlyphs" fill="#1e1e1e" stroke="#1e1e1e" stroke-width="0.45">SOLARIUM</text>
<text x="1721.6" y="433" font-size="18.6" textLength="55.3" lengthAdjust="spacingAndGlyphs" fill="#1e1e1e" stroke="#1e1e1e" stroke-width="0.45">21.8m</text>
<text x="1777.4" y="425.6" font-size="11.9" textLength="7.4" lengthAdjust="spacingAndGlyphs" fill="#1e1e1e" stroke="#1e1e1e" stroke-width="0.35">2</text>
<text x="547.7" y="1200.9" font-size="30.5" textLength="107.8" lengthAdjust="spacingAndGlyphs" fill="#222">PLANTA</text>
<text x="677.9" y="1200.9" font-size="30.5" textLength="69.5" lengthAdjust="spacingAndGlyphs" fill="#222">BAJA</text>
<text x="1056.5" y="1200.9" font-size="30.5" textLength="108.8" lengthAdjust="spacingAndGlyphs" fill="#222">PLANTA</text>
<text x="1186.9" y="1200.9" font-size="30.5" textLength="127.9" lengthAdjust="spacingAndGlyphs" fill="#222">PRIMERA</text>
<text x="1596.6" y="1200.9" font-size="30.5" textLength="108.7" lengthAdjust="spacingAndGlyphs" fill="#222">PLANTA</text>
<text x="1726.9" y="1200.9" font-size="30.5" textLength="146.1" lengthAdjust="spacingAndGlyphs" fill="#222">SOLARIUM</text>
<line x1="0" y1="1236.5" x2="1920" y2="1236.5" stroke="#b8b8b8" stroke-width="2"/>
</svg></body></html>
